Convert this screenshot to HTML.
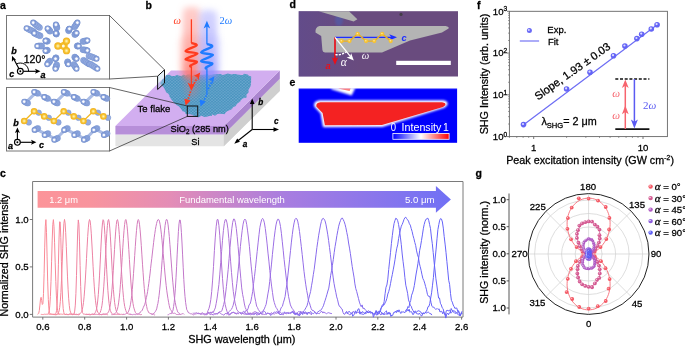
<!DOCTYPE html>
<html><head><meta charset="utf-8"><style>
html,body{margin:0;padding:0;background:#fff;overflow:hidden;}
svg{display:block;will-change:transform;}
svg{font-family:"Liberation Sans",sans-serif;}
.tk{stroke:#000;stroke-width:0.28px;}
</style></head><body>
<svg width="685" height="346" viewBox="0 0 685 346">
<defs>
<radialGradient id="atB" cx="0.5" cy="0.5" r="0.5"><stop offset="0" stop-color="#ffffff"/><stop offset="0.3" stop-color="#f6f8fd"/><stop offset="0.52" stop-color="#9fb3e3"/><stop offset="0.82" stop-color="#7b96d3"/><stop offset="1" stop-color="#6d89c9"/></radialGradient>
<radialGradient id="atY" cx="0.5" cy="0.5" r="0.5"><stop offset="0" stop-color="#fff4c8"/><stop offset="0.3" stop-color="#fbe07a"/><stop offset="0.6" stop-color="#f7c12e"/><stop offset="1" stop-color="#efb020"/></radialGradient>
<linearGradient id="arrC" gradientUnits="userSpaceOnUse" x1="37.6" x2="450.9" y1="0" y2="0"><stop offset="0" stop-color="#fc9499"/><stop offset="0.13" stop-color="#f8949e"/><stop offset="0.32" stop-color="#e48db6"/><stop offset="0.6" stop-color="#a87de0"/><stop offset="1" stop-color="#7070f5"/></linearGradient>
<linearGradient id="cbar" x1="0" x2="1" y1="0" y2="0"><stop offset="0" stop-color="#0000ff"/><stop offset="0.5" stop-color="#ffffff"/><stop offset="1" stop-color="#ff0000"/></linearGradient>
<filter id="blur3" x="-100%" y="-50%" width="300%" height="200%"><feGaussianBlur stdDeviation="3.2"/></filter>
<filter id="blur1" x="-50%" y="-50%" width="200%" height="200%"><feGaussianBlur stdDeviation="1.2"/></filter>
<filter id="blur05" x="-20%" y="-20%" width="140%" height="140%"><feGaussianBlur stdDeviation="0.6"/></filter>
<pattern id="lat" width="3.2" height="2.8" patternUnits="userSpaceOnUse"><rect width="3.2" height="2.8" fill="#55a6c8" fill-opacity="0.82"/><circle cx="0.8" cy="0.7" r="0.85" fill="#3a8cb6" fill-opacity="0.8"/><circle cx="2.4" cy="2.1" r="0.85" fill="#3a8cb6" fill-opacity="0.8"/></pattern>
<radialGradient id="dotP" cx="0.35" cy="0.35" r="0.65"><stop offset="0" stop-color="#ffffff"/><stop offset="0.5" stop-color="currentColor"/><stop offset="1" stop-color="currentColor"/></radialGradient>
</defs>
<text class="tk" x="0" y="9" font-family="Liberation Sans" font-weight="bold" font-size="10.5">a</text>
<text class="tk" x="145.6" y="9" font-family="Liberation Sans" font-weight="bold" font-size="10.5">b</text>
<text class="tk" x="289.5" y="8.2" font-family="Liberation Sans" font-weight="bold" font-size="10.5">d</text>
<text class="tk" x="477" y="9" font-family="Liberation Sans" font-weight="bold" font-size="10.5">f</text>
<text class="tk" x="289.5" y="85.8" font-family="Liberation Sans" font-weight="bold" font-size="10.5">e</text>
<text class="tk" x="0" y="176.6" font-family="Liberation Sans" font-weight="bold" font-size="10.5">c</text>
<text class="tk" x="475.5" y="177.4" font-family="Liberation Sans" font-weight="bold" font-size="10.5">g</text>
<rect x="6.5" y="15.5" width="103" height="63.5" fill="#fff" stroke="#777" stroke-width="1"/>
<rect x="6.5" y="87.5" width="103" height="63.5" fill="#fff" stroke="#777" stroke-width="1"/>
<circle cx="39.5" cy="27.6" r="3.0" fill="#94abe0" stroke="#7390cf" stroke-width="0.5"/>
<circle cx="37.9" cy="26.3" r="3.0" fill="#94abe0" stroke="#7390cf" stroke-width="0.5"/>
<circle cx="36.3" cy="25.1" r="3.0" fill="#94abe0" stroke="#7390cf" stroke-width="0.5"/>
<circle cx="34.8" cy="23.8" r="3.0" fill="#94abe0" stroke="#7390cf" stroke-width="0.5"/>
<circle cx="33.2" cy="22.6" r="3.0" fill="url(#atB)"/>
<circle cx="33.8" cy="31.7" r="3.0" fill="#94abe0" stroke="#7390cf" stroke-width="0.5"/>
<circle cx="32.0" cy="30.8" r="3.0" fill="#94abe0" stroke="#7390cf" stroke-width="0.5"/>
<circle cx="30.2" cy="30.0" r="3.0" fill="#94abe0" stroke="#7390cf" stroke-width="0.5"/>
<circle cx="28.4" cy="29.1" r="3.0" fill="#94abe0" stroke="#7390cf" stroke-width="0.5"/>
<circle cx="26.6" cy="28.2" r="3.0" fill="url(#atB)"/>
<circle cx="40.1" cy="35.8" r="3.0" fill="#94abe0" stroke="#7390cf" stroke-width="0.5"/>
<circle cx="38.6" cy="35.2" r="3.0" fill="#94abe0" stroke="#7390cf" stroke-width="0.5"/>
<circle cx="37.1" cy="34.5" r="3.0" fill="#94abe0" stroke="#7390cf" stroke-width="0.5"/>
<circle cx="35.7" cy="33.9" r="3.0" fill="#94abe0" stroke="#7390cf" stroke-width="0.5"/>
<circle cx="34.2" cy="33.2" r="3.0" fill="url(#atB)"/>
<circle cx="56.9" cy="27.9" r="3.0" fill="#94abe0" stroke="#7390cf" stroke-width="0.5"/>
<circle cx="56.7" cy="27.1" r="3.0" fill="#94abe0" stroke="#7390cf" stroke-width="0.5"/>
<circle cx="56.4" cy="26.3" r="3.0" fill="#94abe0" stroke="#7390cf" stroke-width="0.5"/>
<circle cx="56.2" cy="25.4" r="3.0" fill="#94abe0" stroke="#7390cf" stroke-width="0.5"/>
<circle cx="55.9" cy="24.6" r="3.0" fill="url(#atB)"/>
<circle cx="50.0" cy="31.2" r="3.0" fill="#94abe0" stroke="#7390cf" stroke-width="0.5"/>
<circle cx="49.4" cy="30.5" r="3.0" fill="#94abe0" stroke="#7390cf" stroke-width="0.5"/>
<circle cx="48.8" cy="29.8" r="3.0" fill="#94abe0" stroke="#7390cf" stroke-width="0.5"/>
<circle cx="48.2" cy="29.1" r="3.0" fill="#94abe0" stroke="#7390cf" stroke-width="0.5"/>
<circle cx="47.6" cy="28.4" r="3.0" fill="url(#atB)"/>
<circle cx="56.4" cy="34.1" r="3.0" fill="#94abe0" stroke="#7390cf" stroke-width="0.5"/>
<circle cx="56.2" cy="33.9" r="3.0" fill="#94abe0" stroke="#7390cf" stroke-width="0.5"/>
<circle cx="56.1" cy="33.6" r="3.0" fill="#94abe0" stroke="#7390cf" stroke-width="0.5"/>
<circle cx="56.0" cy="33.4" r="3.0" fill="#94abe0" stroke="#7390cf" stroke-width="0.5"/>
<circle cx="55.9" cy="33.2" r="3.0" fill="url(#atB)"/>
<circle cx="74.5" cy="27.1" r="3.0" fill="#94abe0" stroke="#7390cf" stroke-width="0.5"/>
<circle cx="75.3" cy="25.9" r="3.0" fill="#94abe0" stroke="#7390cf" stroke-width="0.5"/>
<circle cx="76.0" cy="24.8" r="3.0" fill="#94abe0" stroke="#7390cf" stroke-width="0.5"/>
<circle cx="76.7" cy="23.7" r="3.0" fill="#94abe0" stroke="#7390cf" stroke-width="0.5"/>
<circle cx="77.4" cy="22.6" r="3.0" fill="url(#atB)"/>
<circle cx="68.6" cy="30.7" r="3.0" fill="#94abe0" stroke="#7390cf" stroke-width="0.5"/>
<circle cx="68.8" cy="30.2" r="3.0" fill="#94abe0" stroke="#7390cf" stroke-width="0.5"/>
<circle cx="69.0" cy="29.7" r="3.0" fill="#94abe0" stroke="#7390cf" stroke-width="0.5"/>
<circle cx="69.2" cy="29.2" r="3.0" fill="#94abe0" stroke="#7390cf" stroke-width="0.5"/>
<circle cx="69.4" cy="28.7" r="3.0" fill="url(#atB)"/>
<circle cx="74.8" cy="34.6" r="3.0" fill="#94abe0" stroke="#7390cf" stroke-width="0.5"/>
<circle cx="75.2" cy="34.2" r="3.0" fill="#94abe0" stroke="#7390cf" stroke-width="0.5"/>
<circle cx="75.6" cy="33.8" r="3.0" fill="#94abe0" stroke="#7390cf" stroke-width="0.5"/>
<circle cx="76.1" cy="33.4" r="3.0" fill="#94abe0" stroke="#7390cf" stroke-width="0.5"/>
<circle cx="76.5" cy="33.0" r="3.0" fill="url(#atB)"/>
<circle cx="47.4" cy="41.3" r="3.0" fill="#94abe0" stroke="#7390cf" stroke-width="0.5"/>
<circle cx="46.9" cy="41.1" r="3.0" fill="#94abe0" stroke="#7390cf" stroke-width="0.5"/>
<circle cx="46.4" cy="41.0" r="3.0" fill="#94abe0" stroke="#7390cf" stroke-width="0.5"/>
<circle cx="46.0" cy="40.8" r="3.0" fill="#94abe0" stroke="#7390cf" stroke-width="0.5"/>
<circle cx="45.5" cy="40.7" r="3.0" fill="url(#atB)"/>
<circle cx="41.8" cy="46.0" r="3.0" fill="#94abe0" stroke="#7390cf" stroke-width="0.5"/>
<circle cx="40.7" cy="46.0" r="3.0" fill="#94abe0" stroke="#7390cf" stroke-width="0.5"/>
<circle cx="39.5" cy="46.0" r="3.0" fill="#94abe0" stroke="#7390cf" stroke-width="0.5"/>
<circle cx="38.4" cy="46.0" r="3.0" fill="#94abe0" stroke="#7390cf" stroke-width="0.5"/>
<circle cx="37.3" cy="46.0" r="3.0" fill="url(#atB)"/>
<circle cx="47.4" cy="50.2" r="3.0" fill="#94abe0" stroke="#7390cf" stroke-width="0.5"/>
<circle cx="46.9" cy="50.3" r="3.0" fill="#94abe0" stroke="#7390cf" stroke-width="0.5"/>
<circle cx="46.4" cy="50.4" r="3.0" fill="#94abe0" stroke="#7390cf" stroke-width="0.5"/>
<circle cx="46.0" cy="50.6" r="3.0" fill="#94abe0" stroke="#7390cf" stroke-width="0.5"/>
<circle cx="45.5" cy="50.7" r="3.0" fill="url(#atB)"/>
<circle cx="82.9" cy="41.5" r="3.0" fill="#94abe0" stroke="#7390cf" stroke-width="0.5"/>
<circle cx="84.0" cy="41.2" r="3.0" fill="#94abe0" stroke="#7390cf" stroke-width="0.5"/>
<circle cx="85.2" cy="41.0" r="3.0" fill="#94abe0" stroke="#7390cf" stroke-width="0.5"/>
<circle cx="86.3" cy="40.7" r="3.0" fill="#94abe0" stroke="#7390cf" stroke-width="0.5"/>
<circle cx="87.4" cy="40.5" r="3.0" fill="url(#atB)"/>
<circle cx="77.2" cy="46.0" r="3.0" fill="#94abe0" stroke="#7390cf" stroke-width="0.5"/>
<circle cx="77.6" cy="46.0" r="3.0" fill="#94abe0" stroke="#7390cf" stroke-width="0.5"/>
<circle cx="77.9" cy="46.0" r="3.0" fill="#94abe0" stroke="#7390cf" stroke-width="0.5"/>
<circle cx="78.3" cy="46.0" r="3.0" fill="#94abe0" stroke="#7390cf" stroke-width="0.5"/>
<circle cx="78.6" cy="46.0" r="3.0" fill="url(#atB)"/>
<circle cx="82.9" cy="49.7" r="3.0" fill="#94abe0" stroke="#7390cf" stroke-width="0.5"/>
<circle cx="84.1" cy="49.9" r="3.0" fill="#94abe0" stroke="#7390cf" stroke-width="0.5"/>
<circle cx="85.2" cy="50.1" r="3.0" fill="#94abe0" stroke="#7390cf" stroke-width="0.5"/>
<circle cx="86.3" cy="50.3" r="3.0" fill="#94abe0" stroke="#7390cf" stroke-width="0.5"/>
<circle cx="87.4" cy="50.5" r="3.0" fill="url(#atB)"/>
<circle cx="56.0" cy="57.8" r="3.0" fill="#94abe0" stroke="#7390cf" stroke-width="0.5"/>
<circle cx="55.9" cy="58.0" r="3.0" fill="#94abe0" stroke="#7390cf" stroke-width="0.5"/>
<circle cx="55.7" cy="58.3" r="3.0" fill="#94abe0" stroke="#7390cf" stroke-width="0.5"/>
<circle cx="55.6" cy="58.5" r="3.0" fill="#94abe0" stroke="#7390cf" stroke-width="0.5"/>
<circle cx="55.5" cy="58.7" r="3.0" fill="url(#atB)"/>
<circle cx="49.9" cy="61.1" r="3.0" fill="#94abe0" stroke="#7390cf" stroke-width="0.5"/>
<circle cx="49.2" cy="61.9" r="3.0" fill="#94abe0" stroke="#7390cf" stroke-width="0.5"/>
<circle cx="48.6" cy="62.6" r="3.0" fill="#94abe0" stroke="#7390cf" stroke-width="0.5"/>
<circle cx="47.9" cy="63.4" r="3.0" fill="#94abe0" stroke="#7390cf" stroke-width="0.5"/>
<circle cx="47.3" cy="64.2" r="3.0" fill="url(#atB)"/>
<circle cx="56.7" cy="64.8" r="3.0" fill="#94abe0" stroke="#7390cf" stroke-width="0.5"/>
<circle cx="56.4" cy="65.8" r="3.0" fill="#94abe0" stroke="#7390cf" stroke-width="0.5"/>
<circle cx="56.1" cy="66.8" r="3.0" fill="#94abe0" stroke="#7390cf" stroke-width="0.5"/>
<circle cx="55.8" cy="67.7" r="3.0" fill="#94abe0" stroke="#7390cf" stroke-width="0.5"/>
<circle cx="55.5" cy="68.7" r="3.0" fill="url(#atB)"/>
<circle cx="74.7" cy="57.1" r="3.0" fill="#94abe0" stroke="#7390cf" stroke-width="0.5"/>
<circle cx="75.2" cy="57.5" r="3.0" fill="#94abe0" stroke="#7390cf" stroke-width="0.5"/>
<circle cx="75.6" cy="57.9" r="3.0" fill="#94abe0" stroke="#7390cf" stroke-width="0.5"/>
<circle cx="76.1" cy="58.3" r="3.0" fill="#94abe0" stroke="#7390cf" stroke-width="0.5"/>
<circle cx="76.5" cy="58.7" r="3.0" fill="url(#atB)"/>
<circle cx="67.6" cy="61.8" r="3.0" fill="#94abe0" stroke="#7390cf" stroke-width="0.5"/>
<circle cx="67.7" cy="62.4" r="3.0" fill="#94abe0" stroke="#7390cf" stroke-width="0.5"/>
<circle cx="67.9" cy="63.0" r="3.0" fill="#94abe0" stroke="#7390cf" stroke-width="0.5"/>
<circle cx="68.1" cy="63.6" r="3.0" fill="#94abe0" stroke="#7390cf" stroke-width="0.5"/>
<circle cx="68.3" cy="64.2" r="3.0" fill="url(#atB)"/>
<circle cx="73.9" cy="64.4" r="3.0" fill="#94abe0" stroke="#7390cf" stroke-width="0.5"/>
<circle cx="74.5" cy="65.5" r="3.0" fill="#94abe0" stroke="#7390cf" stroke-width="0.5"/>
<circle cx="75.2" cy="66.5" r="3.0" fill="#94abe0" stroke="#7390cf" stroke-width="0.5"/>
<circle cx="75.8" cy="67.6" r="3.0" fill="#94abe0" stroke="#7390cf" stroke-width="0.5"/>
<circle cx="76.5" cy="68.7" r="3.0" fill="url(#atB)"/>
<circle cx="89.0" cy="55.9" r="3.0" fill="#94abe0" stroke="#7390cf" stroke-width="0.5"/>
<circle cx="90.9" cy="56.6" r="3.0" fill="#94abe0" stroke="#7390cf" stroke-width="0.5"/>
<circle cx="92.8" cy="57.3" r="3.0" fill="#94abe0" stroke="#7390cf" stroke-width="0.5"/>
<circle cx="94.6" cy="58.0" r="3.0" fill="#94abe0" stroke="#7390cf" stroke-width="0.5"/>
<circle cx="96.5" cy="58.7" r="3.0" fill="url(#atB)"/>
<circle cx="83.5" cy="60.3" r="3.0" fill="#94abe0" stroke="#7390cf" stroke-width="0.5"/>
<circle cx="84.9" cy="61.2" r="3.0" fill="#94abe0" stroke="#7390cf" stroke-width="0.5"/>
<circle cx="86.3" cy="62.2" r="3.0" fill="#94abe0" stroke="#7390cf" stroke-width="0.5"/>
<circle cx="87.8" cy="63.2" r="3.0" fill="#94abe0" stroke="#7390cf" stroke-width="0.5"/>
<circle cx="89.2" cy="64.2" r="3.0" fill="url(#atB)"/>
<circle cx="90.7" cy="64.3" r="3.0" fill="#94abe0" stroke="#7390cf" stroke-width="0.5"/>
<circle cx="92.4" cy="65.4" r="3.0" fill="#94abe0" stroke="#7390cf" stroke-width="0.5"/>
<circle cx="94.1" cy="66.5" r="3.0" fill="#94abe0" stroke="#7390cf" stroke-width="0.5"/>
<circle cx="95.7" cy="67.6" r="3.0" fill="#94abe0" stroke="#7390cf" stroke-width="0.5"/>
<circle cx="97.4" cy="68.7" r="3.0" fill="url(#atB)"/>
<polygon points="57.9,46 66.5,41.1 66.5,50.7" fill="#f5bd25" stroke="#f5bd25" stroke-width="2.4" stroke-linejoin="round"/>
<circle cx="57.9" cy="46.0" r="3.65" fill="url(#atY)"/>
<circle cx="66.5" cy="41.1" r="3.65" fill="url(#atY)"/>
<circle cx="66.5" cy="50.7" r="3.65" fill="url(#atY)"/>
<circle cx="63.3" cy="45.9" r="1.5" fill="#fffbe8"/>
<g stroke="#000" fill="none" stroke-width="1.15"><path d="M20.3,71.3 L37,71.3"/><path d="M20.3,71.3 L13.8,59"/><path d="M28.6,71.3 A8.3,8.3 0 0 0 16.2,64.1" stroke-width="1"/><circle cx="20.3" cy="71.3" r="2.9" fill="#fff"/></g><circle cx="20.3" cy="71.3" r="1" fill="#000"/><path d="M40.5,71.3 L35,68.8 L36.2,71.3 L35,73.8 Z" fill="#000"/><path d="M12,55.8 L11.9,61.8 L13.6,59.8 L16.3,60.2 Z" fill="#000"/>
<text class="tk" x="23.8" y="62.8" font-family="Liberation Sans" font-size="10.4" textLength="21.6" lengthAdjust="spacingAndGlyphs">120°</text>
<text class="tk" x="11.2" y="54.2" font-family="Liberation Sans" font-size="9" font-weight="bold" font-style="italic">b</text>
<text class="tk" x="9.3" y="77.3" font-family="Liberation Sans" font-size="9" font-weight="bold" font-style="italic">c</text>
<text class="tk" x="40.4" y="77.7" font-family="Liberation Sans" font-size="9" font-weight="bold" font-style="italic">a</text>
<circle cx="28.8" cy="122.4" r="2.8" fill="#94abe0" stroke="#7390cf" stroke-width="0.5"/>
<circle cx="38.7" cy="112.7" r="2.8" fill="#94abe0" stroke="#7390cf" stroke-width="0.5"/>
<circle cx="48.8" cy="117.8" r="2.8" fill="#94abe0" stroke="#7390cf" stroke-width="0.5"/>
<circle cx="58.4" cy="122.4" r="2.8" fill="#94abe0" stroke="#7390cf" stroke-width="0.5"/>
<circle cx="68.3" cy="112.7" r="2.8" fill="#94abe0" stroke="#7390cf" stroke-width="0.5"/>
<circle cx="78.4" cy="117.8" r="2.8" fill="#94abe0" stroke="#7390cf" stroke-width="0.5"/>
<circle cx="88.0" cy="122.4" r="2.8" fill="#94abe0" stroke="#7390cf" stroke-width="0.5"/>
<circle cx="97.9" cy="112.7" r="2.8" fill="#94abe0" stroke="#7390cf" stroke-width="0.5"/>
<circle cx="108.0" cy="117.8" r="2.8" fill="#94abe0" stroke="#7390cf" stroke-width="0.5"/>
<path d="M26.0,102.4 L35.9,92.6" stroke="#a9bbe4" stroke-width="3"/>
<path d="M35.9,92.6 L46.0,97.8" stroke="#a9bbe4" stroke-width="3"/>
<path d="M46.0,97.8 L55.6,102.4" stroke="#a9bbe4" stroke-width="3"/>
<path d="M55.6,102.4 L65.5,92.6" stroke="#a9bbe4" stroke-width="3"/>
<path d="M65.5,92.6 L75.6,97.8" stroke="#a9bbe4" stroke-width="3"/>
<path d="M75.6,97.8 L85.2,102.4" stroke="#a9bbe4" stroke-width="3"/>
<path d="M85.2,102.4 L95.1,92.6" stroke="#a9bbe4" stroke-width="3"/>
<path d="M95.1,92.6 L105.2,97.8" stroke="#a9bbe4" stroke-width="3"/>
<circle cx="27.8" cy="103.2" r="2.9" fill="#94abe0" stroke="#7390cf" stroke-width="0.5"/>
<circle cx="26.6" cy="102.7" r="2.9" fill="#94abe0" stroke="#7390cf" stroke-width="0.5"/>
<circle cx="25.4" cy="102.1" r="2.9" fill="#94abe0" stroke="#7390cf" stroke-width="0.5"/>
<circle cx="24.2" cy="101.6" r="2.9" fill="url(#atB)"/>
<circle cx="37.7" cy="93.4" r="2.9" fill="#94abe0" stroke="#7390cf" stroke-width="0.5"/>
<circle cx="36.5" cy="92.9" r="2.9" fill="#94abe0" stroke="#7390cf" stroke-width="0.5"/>
<circle cx="35.3" cy="92.3" r="2.9" fill="#94abe0" stroke="#7390cf" stroke-width="0.5"/>
<circle cx="34.1" cy="91.8" r="2.9" fill="url(#atB)"/>
<circle cx="47.8" cy="98.6" r="2.9" fill="#94abe0" stroke="#7390cf" stroke-width="0.5"/>
<circle cx="46.6" cy="98.1" r="2.9" fill="#94abe0" stroke="#7390cf" stroke-width="0.5"/>
<circle cx="45.4" cy="97.5" r="2.9" fill="#94abe0" stroke="#7390cf" stroke-width="0.5"/>
<circle cx="44.2" cy="97.0" r="2.9" fill="url(#atB)"/>
<circle cx="57.4" cy="103.2" r="2.9" fill="#94abe0" stroke="#7390cf" stroke-width="0.5"/>
<circle cx="56.2" cy="102.7" r="2.9" fill="#94abe0" stroke="#7390cf" stroke-width="0.5"/>
<circle cx="55.0" cy="102.1" r="2.9" fill="#94abe0" stroke="#7390cf" stroke-width="0.5"/>
<circle cx="53.8" cy="101.6" r="2.9" fill="url(#atB)"/>
<circle cx="67.3" cy="93.4" r="2.9" fill="#94abe0" stroke="#7390cf" stroke-width="0.5"/>
<circle cx="66.1" cy="92.9" r="2.9" fill="#94abe0" stroke="#7390cf" stroke-width="0.5"/>
<circle cx="64.9" cy="92.3" r="2.9" fill="#94abe0" stroke="#7390cf" stroke-width="0.5"/>
<circle cx="63.7" cy="91.8" r="2.9" fill="url(#atB)"/>
<circle cx="77.4" cy="98.6" r="2.9" fill="#94abe0" stroke="#7390cf" stroke-width="0.5"/>
<circle cx="76.2" cy="98.1" r="2.9" fill="#94abe0" stroke="#7390cf" stroke-width="0.5"/>
<circle cx="75.0" cy="97.5" r="2.9" fill="#94abe0" stroke="#7390cf" stroke-width="0.5"/>
<circle cx="73.8" cy="97.0" r="2.9" fill="url(#atB)"/>
<circle cx="87.0" cy="103.2" r="2.9" fill="#94abe0" stroke="#7390cf" stroke-width="0.5"/>
<circle cx="85.8" cy="102.7" r="2.9" fill="#94abe0" stroke="#7390cf" stroke-width="0.5"/>
<circle cx="84.6" cy="102.1" r="2.9" fill="#94abe0" stroke="#7390cf" stroke-width="0.5"/>
<circle cx="83.4" cy="101.6" r="2.9" fill="url(#atB)"/>
<circle cx="96.9" cy="93.4" r="2.9" fill="#94abe0" stroke="#7390cf" stroke-width="0.5"/>
<circle cx="95.7" cy="92.9" r="2.9" fill="#94abe0" stroke="#7390cf" stroke-width="0.5"/>
<circle cx="94.5" cy="92.3" r="2.9" fill="#94abe0" stroke="#7390cf" stroke-width="0.5"/>
<circle cx="93.3" cy="91.8" r="2.9" fill="url(#atB)"/>
<circle cx="107.0" cy="98.6" r="2.9" fill="#94abe0" stroke="#7390cf" stroke-width="0.5"/>
<circle cx="105.8" cy="98.1" r="2.9" fill="#94abe0" stroke="#7390cf" stroke-width="0.5"/>
<circle cx="104.6" cy="97.5" r="2.9" fill="#94abe0" stroke="#7390cf" stroke-width="0.5"/>
<circle cx="103.4" cy="97.0" r="2.9" fill="url(#atB)"/>
<path d="M36.2,129.1 L46.3,134.3" stroke="#a9bbe4" stroke-width="3"/>
<path d="M46.3,134.3 L55.9,139.0" stroke="#a9bbe4" stroke-width="3"/>
<path d="M55.9,139.0 L65.8,129.1" stroke="#a9bbe4" stroke-width="3"/>
<path d="M65.8,129.1 L75.9,134.3" stroke="#a9bbe4" stroke-width="3"/>
<path d="M75.9,134.3 L85.5,139.0" stroke="#a9bbe4" stroke-width="3"/>
<path d="M85.5,139.0 L95.4,129.1" stroke="#a9bbe4" stroke-width="3"/>
<path d="M95.4,129.1 L105.5,134.3" stroke="#a9bbe4" stroke-width="3"/>
<circle cx="37.9" cy="128.3" r="2.9" fill="#94abe0" stroke="#7390cf" stroke-width="0.5"/>
<circle cx="36.8" cy="128.8" r="2.9" fill="#94abe0" stroke="#7390cf" stroke-width="0.5"/>
<circle cx="35.6" cy="129.4" r="2.9" fill="#94abe0" stroke="#7390cf" stroke-width="0.5"/>
<circle cx="34.5" cy="129.9" r="2.9" fill="url(#atB)"/>
<circle cx="48.0" cy="133.5" r="2.9" fill="#94abe0" stroke="#7390cf" stroke-width="0.5"/>
<circle cx="46.9" cy="134.0" r="2.9" fill="#94abe0" stroke="#7390cf" stroke-width="0.5"/>
<circle cx="45.7" cy="134.6" r="2.9" fill="#94abe0" stroke="#7390cf" stroke-width="0.5"/>
<circle cx="44.6" cy="135.1" r="2.9" fill="url(#atB)"/>
<circle cx="57.6" cy="138.2" r="2.9" fill="#94abe0" stroke="#7390cf" stroke-width="0.5"/>
<circle cx="56.5" cy="138.7" r="2.9" fill="#94abe0" stroke="#7390cf" stroke-width="0.5"/>
<circle cx="55.3" cy="139.3" r="2.9" fill="#94abe0" stroke="#7390cf" stroke-width="0.5"/>
<circle cx="54.2" cy="139.8" r="2.9" fill="url(#atB)"/>
<circle cx="67.5" cy="128.3" r="2.9" fill="#94abe0" stroke="#7390cf" stroke-width="0.5"/>
<circle cx="66.4" cy="128.8" r="2.9" fill="#94abe0" stroke="#7390cf" stroke-width="0.5"/>
<circle cx="65.2" cy="129.4" r="2.9" fill="#94abe0" stroke="#7390cf" stroke-width="0.5"/>
<circle cx="64.1" cy="129.9" r="2.9" fill="url(#atB)"/>
<circle cx="77.6" cy="133.5" r="2.9" fill="#94abe0" stroke="#7390cf" stroke-width="0.5"/>
<circle cx="76.5" cy="134.0" r="2.9" fill="#94abe0" stroke="#7390cf" stroke-width="0.5"/>
<circle cx="75.3" cy="134.6" r="2.9" fill="#94abe0" stroke="#7390cf" stroke-width="0.5"/>
<circle cx="74.2" cy="135.1" r="2.9" fill="url(#atB)"/>
<circle cx="87.2" cy="138.2" r="2.9" fill="#94abe0" stroke="#7390cf" stroke-width="0.5"/>
<circle cx="86.1" cy="138.7" r="2.9" fill="#94abe0" stroke="#7390cf" stroke-width="0.5"/>
<circle cx="84.9" cy="139.3" r="2.9" fill="#94abe0" stroke="#7390cf" stroke-width="0.5"/>
<circle cx="83.8" cy="139.8" r="2.9" fill="url(#atB)"/>
<circle cx="97.1" cy="128.3" r="2.9" fill="#94abe0" stroke="#7390cf" stroke-width="0.5"/>
<circle cx="96.0" cy="128.8" r="2.9" fill="#94abe0" stroke="#7390cf" stroke-width="0.5"/>
<circle cx="94.8" cy="129.4" r="2.9" fill="#94abe0" stroke="#7390cf" stroke-width="0.5"/>
<circle cx="93.7" cy="129.9" r="2.9" fill="url(#atB)"/>
<circle cx="107.2" cy="133.5" r="2.9" fill="#94abe0" stroke="#7390cf" stroke-width="0.5"/>
<circle cx="106.1" cy="134.0" r="2.9" fill="#94abe0" stroke="#7390cf" stroke-width="0.5"/>
<circle cx="104.9" cy="134.6" r="2.9" fill="#94abe0" stroke="#7390cf" stroke-width="0.5"/>
<circle cx="103.8" cy="135.1" r="2.9" fill="url(#atB)"/>
<polyline points="24.2,121.0 34.1,111.3 44.2,116.4 53.8,121.0 63.7,111.3 73.8,116.4 83.4,121.0 93.3,111.3 103.4,116.4" fill="none" stroke="#f2b820" stroke-width="1.3"/>
<circle cx="24.2" cy="121.0" r="3.3" fill="url(#atY)"/>
<circle cx="34.1" cy="111.3" r="3.3" fill="url(#atY)"/>
<circle cx="44.2" cy="116.4" r="3.3" fill="url(#atY)"/>
<circle cx="53.8" cy="121.0" r="3.3" fill="url(#atY)"/>
<circle cx="63.7" cy="111.3" r="3.3" fill="url(#atY)"/>
<circle cx="73.8" cy="116.4" r="3.3" fill="url(#atY)"/>
<circle cx="83.4" cy="121.0" r="3.3" fill="url(#atY)"/>
<circle cx="93.3" cy="111.3" r="3.3" fill="url(#atY)"/>
<circle cx="103.4" cy="116.4" r="3.3" fill="url(#atY)"/>
<g stroke="#000" fill="none" stroke-width="1.15"><path d="M17.4,142.3 L17.4,131"/><path d="M17.4,142.3 L33,142.3"/><circle cx="17.4" cy="142.3" r="2.9" fill="#fff"/></g><circle cx="17.4" cy="142.3" r="1" fill="#000"/><path d="M17.4,127.6 L14.9,133 L17.4,131.8 L19.9,133 Z" fill="#000"/><path d="M36.4,142.3 L31,139.8 L32.2,142.3 L31,144.8 Z" fill="#000"/>
<text class="tk" x="13.2" y="126.3" font-family="Liberation Sans" font-size="9" font-weight="bold" font-style="italic">b</text>
<text class="tk" x="7.9" y="149.1" font-family="Liberation Sans" font-size="9" font-weight="bold" font-style="italic">a</text>
<text class="tk" x="39" y="148.3" font-family="Liberation Sans" font-size="9" font-weight="bold" font-style="italic">c</text>
<polygon points="115.4,146.3 223.8,146.3 279.8,91 279.8,78.8 223.8,134.4 115.4,134.4" fill="#e4e4e4"/>
<polygon points="223.8,146.3 279.8,91 279.8,78.8 223.8,134.4" fill="#cfcfcf"/>
<polygon points="115.4,126 223.8,126 223.8,134.4 115.4,134.4" fill="#b78fd9"/>
<polygon points="223.8,126 279.8,70.6 279.8,78.8 223.8,134.4" fill="#ab85cf"/>
<polygon points="115.4,126 223.8,126 279.8,70.6 171,70.6" fill="#d2aef0"/>
<polygon points="160.0,83.3 161.6,81.3 162.2,79.6 165.0,78.2 166.0,75.0 167.8,75.1 169.3,74.7 171.6,76.1 174.9,75.9 177.1,74.7 178.4,75.5 181.3,75.9 183.8,74.4 185.5,75.4 187.5,74.5 189.7,74.3 192.7,75.7 194.2,74.6 197.1,75.1 199.2,75.5 200.8,74.7 203.1,74.7 204.5,74.4 207.9,73.9 208.7,74.9 211.4,74.7 213.9,74.3 217.1,74.0 218.2,74.0 220.8,74.1 222.5,74.9 224.7,74.5 227.9,73.6 228.6,73.8 232.1,74.5 233.3,73.9 235.4,74.1 237.4,74.5 241.1,74.9 243.0,74.9 243.9,73.7 247.8,74.5 248.8,75.8 251.2,76.6 251.1,79.4 251.1,82.0 250.6,86.2 250.2,87.1 248.5,89.8 248.6,92.5 246.5,94.4 246.6,97.4 243.2,98.3 241.0,100.1 240.2,101.6 237.1,103.8 235.5,106.3 233.3,107.1 232.7,108.1 231.3,109.6 228.1,110.7 226.0,112.1 224.5,114.2 223.2,113.9 219.4,113.8 217.4,114.1 215.0,115.7 212.5,114.6 211.5,115.9 209.3,116.0 206.7,116.8 204.3,116.9 201.5,115.8 198.7,117.2 197.7,117.3 194.5,116.1 193.2,115.4 191.1,114.6 188.6,114.2 185.7,113.9 184.8,111.7 182.8,111.5 180.3,107.9 178.7,106.2 176.8,105.3 173.7,102.6 173.2,101.5 171.9,100.3 169.5,96.8 169.3,95.0 167.7,93.3 166.3,92.5 165.1,90.1 163.8,87.5 162.1,85.7" fill="url(#lat)" filter="url(#blur05)"/>
<linearGradient id="gR" x1="0" x2="0" y1="0" y2="1"><stop offset="0" stop-color="#ffa8a2" stop-opacity="0.55"/><stop offset="0.45" stop-color="#ff9088" stop-opacity="0.6"/><stop offset="1" stop-color="#ff6a5e" stop-opacity="0.85"/></linearGradient>
<linearGradient id="gB" x1="0" x2="0" y1="0" y2="1"><stop offset="0" stop-color="#b4b4ff" stop-opacity="0.55"/><stop offset="0.45" stop-color="#a0a0ff" stop-opacity="0.6"/><stop offset="1" stop-color="#8484ff" stop-opacity="0.8"/></linearGradient>
<rect x="183" y="7" width="17" height="72" rx="5" fill="url(#gR)" filter="url(#blur3)"/>
<rect x="199.5" y="10" width="17.5" height="69" rx="5" fill="url(#gB)" filter="url(#blur3)"/>
<rect x="179" y="35" width="24" height="40" rx="8" fill="#ff9a90" opacity="0.25" filter="url(#blur3)"/>
<rect x="197" y="35" width="24" height="40" rx="8" fill="#b0b0ff" opacity="0.25" filter="url(#blur3)"/>
<ellipse cx="192" cy="86" rx="7" ry="12" fill="#ff7060" opacity="0.25" filter="url(#blur3)"/>
<path d="M191.4,19.3 L191.4,43" stroke="#ff3b1f" stroke-width="1.3" fill="none"/>
<path d="M191.40,43.00 C192.27,43.40 197.57,44.04 196.60,45.40 C195.63,46.76 185.47,49.80 185.60,51.16 C185.73,52.52 197.40,52.20 197.40,53.56 C197.40,54.92 185.70,57.96 185.60,59.32 C185.50,60.68 196.00,60.68 196.80,61.72 C197.60,62.76 191.30,64.68 190.40,65.56 C189.50,66.44 191.23,66.76 191.40,67.00" stroke="#ff3b1f" stroke-width="2.4" fill="none"/>
<path d="M191.4,67 L191.4,85" stroke="#ff3b1f" stroke-width="1.3"/>
<path d="M191.4,91 L187.6,82.5 L191.4,84.8 L195.2,82.5 Z" fill="#ff3b1f"/>
<path d="M192.8,86 L197.2,78" stroke="#ff3b1f" stroke-width="1.7" stroke-dasharray="1.6,1.3"/><path d="M200.2,72.6 L194,75.8 L197.4,77.2 L198.4,80.6 Z" fill="#ff3b1f"/>
<path d="M190.6,91.5 L187.6,100.5" stroke="#ff3b1f" stroke-width="1.7" stroke-dasharray="1.6,1.4"/>
<path d="M185.6,105.5 L184.4,98.6 L190.6,100.6 Z" fill="#ff3b1f"/>
<path d="M206.9,25 L206.9,44" stroke="#1f7bff" stroke-width="1.3" fill="none"/>
<path d="M206.9,20.8 L203.6,28.4 L206.9,26.6 L210.2,28.4 Z" fill="#1f7bff"/>
<path d="M206.90,44.00 C207.77,44.42 213.07,45.08 212.10,46.50 C211.13,47.92 200.97,51.08 201.10,52.50 C201.23,53.92 212.90,53.58 212.90,55.00 C212.90,56.42 201.20,59.58 201.10,61.00 C201.00,62.42 211.50,62.42 212.30,63.50 C213.10,64.58 206.80,66.58 205.90,67.50 C205.00,68.42 206.73,68.75 206.90,69.00" stroke="#1f7bff" stroke-width="2.4" fill="none"/>
<path d="M206.9,69 L206.9,95" stroke="#1f7bff" stroke-width="1.3"/>
<path d="M208.2,89 L212.2,81" stroke="#1f7bff" stroke-width="1.7" stroke-dasharray="1.6,1.3"/><path d="M214.4,76.2 L208.4,79.4 L211.8,80.8 L212.8,84.2 Z" fill="#1f7bff"/>
<path d="M206.4,95.5 L202.6,103" stroke="#1f7bff" stroke-width="1.7" stroke-dasharray="1.6,1.4"/>
<path d="M200.6,106.5 L199.6,99.5 L205.8,101.5 Z" fill="#1f7bff"/>
<text x="173.6" y="23.8" font-family="Liberation Serif" font-style="italic" font-size="10.5" fill="#ff3b1f">ω</text>
<text x="219.4" y="23.8" font-family="Liberation Serif" font-size="10.5" fill="#1f7bff">2<tspan font-style="italic">ω</tspan></text>
<g stroke="#222" stroke-width="0.7" fill="none"><path d="M109.5,15.5 L164.5,69.8"/><path d="M109.5,79 L157.6,76.2"/><path d="M109.5,87.5 L187.3,106"/><path d="M109.5,151 L187.3,116.4"/></g>
<polygon points="157.6,76.2 164.5,69.8 164.5,83.1 157.6,89.5" fill="#b8d8ea" fill-opacity="0.35" stroke="#111" stroke-width="1"/>
<rect x="187.3" y="106" width="10.4" height="10.4" fill="none" stroke="#111" stroke-width="1"/>
<text class="tk" x="137.6" y="112.2" font-family="Liberation Sans" font-size="9.5">Te flake</text>
<text class="tk" x="170.6" y="132" font-family="Liberation Sans" font-size="9.2">SiO<tspan font-size="6.3" dy="2">2</tspan><tspan dy="-2"> (285 nm)</tspan></text>
<text class="tk" x="191.3" y="145.4" font-family="Liberation Sans" font-size="9.2">Si</text>
<g stroke="#000" stroke-width="1.1" fill="none"><path d="M252.2,129.5 L252.2,101"/><path d="M252.2,129.5 L276,129.5"/><path d="M252.2,129.5 L237,141.5"/></g>
<path d="M252.2,98.5 L249.9,104 L254.5,104 Z" fill="#000"/><path d="M279,129.5 L273.5,127.2 L273.5,131.8 Z" fill="#000"/><path d="M234.3,143.7 L237.2,138.5 L239.9,141.8 Z" fill="#000"/>
<text class="tk" x="258.3" y="105.3" font-family="Liberation Sans" font-size="8.2" font-weight="bold" font-style="italic">b</text>
<text class="tk" x="274" y="124.3" font-family="Liberation Sans" font-size="8.2" font-weight="bold" font-style="italic">c</text>
<text class="tk" x="242.8" y="146.8" font-family="Liberation Sans" font-size="8.2" font-weight="bold" font-style="italic">a</text>
<rect x="298.7" y="11.2" width="159.3" height="65.3" fill="#694b7e"/>
<linearGradient id="dL" gradientUnits="userSpaceOnUse" x1="298.7" x2="360" y1="0" y2="0"><stop offset="0" stop-color="#5a4c98" stop-opacity="0.45"/><stop offset="1" stop-color="#5a4c98" stop-opacity="0"/></linearGradient>
<rect x="298.7" y="11.2" width="61.3" height="65.3" fill="url(#dL)"/>
<ellipse cx="339" cy="20" rx="4" ry="6" fill="#4a64b8" opacity="0.5" filter="url(#blur1)"/>
<polygon points="318.7,11.2 349,11.2 357.4,19.2 353.7,21.4" fill="#b0b0b0"/>
<path d="M319.5,26 L445.6,25.9 Q449.5,26.5 448.6,28.6 L442,32.5 L410,40.5 L382,52.4 L325,52.6 Q322.5,52.4 322.4,50 L321.2,36 L315.5,32.5 Q315,27 319.5,26 Z" fill="#b4b4b4"/>
<circle cx="401" cy="14.4" r="1.6" fill="#3a3a3a" opacity="0.8"/>
<path d="M335,37.3 L392,37.3" stroke="#1e2eff" stroke-width="1.3"/><path d="M397,37.3 L389.2,34.2 L391.2,37.3 L389.2,40.4 Z" fill="#1e2eff"/>
<polyline points="341.6,41.1 349.5,41.1 357.7,33.8 366.1,41.1 374.3,41.1 382.2,33.8 390.7,41.1" fill="none" stroke="#eab020" stroke-width="1.4"/>
<circle cx="341.6" cy="41.1" r="2.1" fill="#f6c232"/><circle cx="341.3" cy="40.800000000000004" r="0.8" fill="#fde79a"/>
<circle cx="349.5" cy="41.1" r="2.1" fill="#f6c232"/><circle cx="349.2" cy="40.800000000000004" r="0.8" fill="#fde79a"/>
<circle cx="357.7" cy="33.8" r="2.1" fill="#f6c232"/><circle cx="357.4" cy="33.5" r="0.8" fill="#fde79a"/>
<circle cx="366.1" cy="41.1" r="2.1" fill="#f6c232"/><circle cx="365.8" cy="40.800000000000004" r="0.8" fill="#fde79a"/>
<circle cx="374.3" cy="41.1" r="2.1" fill="#f6c232"/><circle cx="374.0" cy="40.800000000000004" r="0.8" fill="#fde79a"/>
<circle cx="382.2" cy="33.8" r="2.1" fill="#f6c232"/><circle cx="381.9" cy="33.5" r="0.8" fill="#fde79a"/>
<circle cx="390.7" cy="41.1" r="2.1" fill="#f6c232"/><circle cx="390.4" cy="40.800000000000004" r="0.8" fill="#fde79a"/>
<path d="M335,37.3 L335,60" stroke="#e8101a" stroke-width="1.7"/><path d="M335,65 L331.8,57.2 L335,59 L338.2,57.2 Z" fill="#e8101a"/>
<path d="M335,37.3 L350.2,56.2" stroke="#fff" stroke-width="1.3"/><path d="M353.8,60.6 L346.6,57.6 L350,56.6 L351.2,53.2 Z" fill="#fff"/>
<path d="M335.4,54.6 Q341,55.5 346.4,51.8" stroke="#fff" stroke-width="1.4" fill="none" stroke-dasharray="2.2,1.2"/>
<text x="401.6" y="41.4" font-family="Liberation Sans" font-size="9.4" font-weight="bold" font-style="italic" fill="#1e2eff">c</text>
<text x="325.5" y="69.2" font-family="Liberation Sans" font-size="9.4" font-weight="bold" font-style="italic" fill="#e8101a">a</text>
<text x="361.8" y="58.6" font-family="Liberation Serif" font-style="italic" font-size="10.6" fill="#fff">ω</text>
<text x="340.8" y="66.4" font-family="Liberation Serif" font-style="italic" font-size="11.5" fill="#fff">α</text>
<rect x="396.2" y="60.8" width="54.6" height="4.2" fill="#fff"/>
<rect x="298.7" y="88.6" width="158.4" height="54.2" fill="#0000fc"/>
<rect x="298.7" y="88.2" width="158.4" height="1" fill="#8080ff" opacity="0.6"/>
<path d="M319.5,101.4 L443,101.4 Q447.5,102 446.2,104.6 L444,106.5 L382,125.9 L324,126.1 L321.7,113 L315.3,106 Q314.8,102 319.5,101.4 Z" fill="#fff" stroke="#fff" stroke-width="2.4" stroke-linejoin="round" filter="url(#blur1)"/>
<path d="M319.5,101.4 L443,101.4 Q447.5,102 446.2,104.6 L444,106.5 L382,125.9 L324,126.1 L321.7,113 L315.3,106 Q314.8,102 319.5,101.4 Z" fill="#f42424" transform="translate(381,113.7) scale(0.985,0.93) translate(-381,-113.7)" filter="url(#blur05)"/>
<path d="M331.5,88.6 L354.2,88.6 L351.2,94.6 Z" fill="#fff" stroke="#fff" stroke-width="1.5" filter="url(#blur1)"/>
<path d="M338,88.6 L350.6,88.6 L349.6,91 Z" fill="#fb8080" filter="url(#blur05)"/>
<text x="390.8" y="131.1" font-family="Liberation Sans" font-size="10.4" fill="#fff" transform="translate(390.8,0) scale(0.92,1) translate(-390.8,0)">0</text>
<text x="401.6" y="130.7" font-family="Liberation Sans" font-size="10.4" fill="#fff" textLength="39.8" lengthAdjust="spacingAndGlyphs">Intensity</text>
<text x="443" y="131.1" font-family="Liberation Sans" font-size="10.4" fill="#fff">1</text>
<rect x="392.9" y="133.4" width="56.2" height="5.9" fill="url(#cbar)" stroke="#fff" stroke-width="0.8"/>
<path d="M32.6,181.5 L463,181.5 L463,317.1 L32.6,317.1 Z" fill="none" stroke="#7a7a7a" stroke-width="1"/>
<path d="M37.6,191.1 L435.9,191.1 L435.9,186.1 L450.9,199.4 L435.9,212.7 L435.9,207.8 L37.6,207.8 Z" fill="url(#arrC)"/>
<text x="49.3" y="202.9" font-family="Liberation Sans" font-size="9.6" fill="#fff" textLength="28.6" lengthAdjust="spacingAndGlyphs">1.2 μm</text>
<text x="179.2" y="202.9" font-family="Liberation Sans" font-size="9.6" fill="#fff" textLength="105.6" lengthAdjust="spacingAndGlyphs">Fundamental wavelength</text>
<text x="404.9" y="202.9" font-family="Liberation Sans" font-size="9.6" fill="#fff" textLength="29.6" lengthAdjust="spacingAndGlyphs">5.0 μm</text>
<path d="M29.8,219.5 L32.6,219.5" stroke="#666" stroke-width="0.9"/>
<text class="tk" x="28.7" y="223.0" font-family="Liberation Sans" font-size="9.6" text-anchor="end" fill="#000">1.0</text>
<path d="M29.8,266.9 L32.6,266.9" stroke="#666" stroke-width="0.9"/>
<text class="tk" x="28.7" y="270.4" font-family="Liberation Sans" font-size="9.6" text-anchor="end" fill="#000">0.5</text>
<path d="M29.8,314.4 L32.6,314.4" stroke="#666" stroke-width="0.9"/>
<text class="tk" x="28.7" y="317.9" font-family="Liberation Sans" font-size="9.6" text-anchor="end" fill="#000">0.0</text>
<path d="M42.8,317.1 L42.8,319.6" stroke="#666" stroke-width="0.9"/>
<text class="tk" x="42.8" y="330.1" font-family="Liberation Sans" font-size="9.6" text-anchor="middle" fill="#000">0.6</text>
<path d="M84.7,317.1 L84.7,319.6" stroke="#666" stroke-width="0.9"/>
<text class="tk" x="84.7" y="330.1" font-family="Liberation Sans" font-size="9.6" text-anchor="middle" fill="#000">0.8</text>
<path d="M126.6,317.1 L126.6,319.6" stroke="#666" stroke-width="0.9"/>
<text class="tk" x="126.6" y="330.1" font-family="Liberation Sans" font-size="9.6" text-anchor="middle" fill="#000">1.0</text>
<path d="M168.4,317.1 L168.4,319.6" stroke="#666" stroke-width="0.9"/>
<text class="tk" x="168.4" y="330.1" font-family="Liberation Sans" font-size="9.6" text-anchor="middle" fill="#000">1.2</text>
<path d="M210.3,317.1 L210.3,319.6" stroke="#666" stroke-width="0.9"/>
<text class="tk" x="210.3" y="330.1" font-family="Liberation Sans" font-size="9.6" text-anchor="middle" fill="#000">1.4</text>
<path d="M252.2,317.1 L252.2,319.6" stroke="#666" stroke-width="0.9"/>
<text class="tk" x="252.2" y="330.1" font-family="Liberation Sans" font-size="9.6" text-anchor="middle" fill="#000">1.6</text>
<path d="M294.1,317.1 L294.1,319.6" stroke="#666" stroke-width="0.9"/>
<text class="tk" x="294.1" y="330.1" font-family="Liberation Sans" font-size="9.6" text-anchor="middle" fill="#000">1.8</text>
<path d="M336.0,317.1 L336.0,319.6" stroke="#666" stroke-width="0.9"/>
<text class="tk" x="336.0" y="330.1" font-family="Liberation Sans" font-size="9.6" text-anchor="middle" fill="#000">2.0</text>
<path d="M377.8,317.1 L377.8,319.6" stroke="#666" stroke-width="0.9"/>
<text class="tk" x="377.8" y="330.1" font-family="Liberation Sans" font-size="9.6" text-anchor="middle" fill="#000">2.2</text>
<path d="M419.7,317.1 L419.7,319.6" stroke="#666" stroke-width="0.9"/>
<text class="tk" x="419.7" y="330.1" font-family="Liberation Sans" font-size="9.6" text-anchor="middle" fill="#000">2.4</text>
<path d="M461.6,317.1 L461.6,319.6" stroke="#666" stroke-width="0.9"/>
<text class="tk" x="461.6" y="330.1" font-family="Liberation Sans" font-size="9.6" text-anchor="middle" fill="#000">2.6</text>
<text class="tk" x="188.2" y="343.4" font-family="Liberation Sans" font-size="10.6" fill="#000" textLength="107.2" lengthAdjust="spacingAndGlyphs">SHG wavelength (μm)</text>
<text class="tk" transform="translate(8.3,316.4) rotate(-90)" font-family="Liberation Sans" font-size="10.75" fill="#000" textLength="122.6" lengthAdjust="spacingAndGlyphs">Normalized SHG intensity</text>
<polyline points="37.5,314.2 38.1,314.1 38.7,313.4 39.3,310.5 39.9,305.1 40.5,299.1 41.1,297.3 41.7,300.6 42.3,304.5 42.9,303.6 43.5,293.6 44.1,273.7 44.7,247.9 45.3,226.2 45.9,219.6 46.5,232.3 47.1,256.9 47.7,281.9 48.3,299.5 48.9,308.9 49.5,312.8 50.1,314.0 50.7,314.3 51.3,314.3 51.9,314.2 52.5,314.3 53.1,314.6 53.7,314.4 54.3,314.6 54.9,314.5 55.5,314.7 56.1,314.5 56.7,314.6 57.3,314.5 57.9,313.9 58.5,314.2 59.1,314.2 59.7,314.5" fill="none" stroke="#fa8a97" stroke-width="1" stroke-linejoin="round"/>
<polyline points="40.8,314.4 41.4,314.4 42.0,314.4 42.6,314.5 43.2,314.4 43.8,314.5 44.4,314.2 45.0,314.4 45.6,314.3 46.2,314.3 46.8,314.2 47.4,314.3 48.0,313.9 48.6,313.1 49.2,310.8 49.8,305.8 50.4,296.4 51.0,281.3 51.6,261.2 52.2,240.1 52.8,224.3 53.4,219.6 54.0,226.7 54.6,242.8 55.2,262.8 55.8,281.5 56.4,295.9 57.0,305.3 57.6,310.6 58.2,313.0 58.8,313.9 59.4,314.0 60.0,314.1 60.6,314.1 61.2,314.1 61.8,314.2 62.4,314.3 63.0,314.2 63.6,314.0 64.2,314.3 64.8,314.4" fill="none" stroke="#f88999" stroke-width="1" stroke-linejoin="round"/>
<polyline points="48.2,314.1 48.8,314.1 49.4,314.4 50.0,314.0 50.6,314.0 51.2,314.1 51.8,314.2 52.4,314.3 53.0,314.5 53.6,314.4 54.2,314.4 54.8,314.2 55.4,314.0 56.0,313.2 56.6,310.3 57.2,303.1 57.8,288.1 58.4,264.8 59.0,239.1 59.6,221.8 60.2,221.9 60.8,237.7 61.4,261.5 62.0,283.9 62.6,299.9 63.2,308.7 63.8,312.4 64.4,313.9 65.0,314.6 65.6,314.4 66.2,314.1 66.8,314.1 67.4,314.4 68.0,314.5 68.6,314.4 69.2,314.0 69.8,314.1 70.4,314.2 71.0,314.1 71.6,314.3 72.2,314.0 72.8,314.3" fill="none" stroke="#f6889b" stroke-width="1" stroke-linejoin="round"/>
<polyline points="53.1,314.5 53.7,314.3 54.3,314.3 54.9,314.6 55.5,314.6 56.1,314.6 56.7,314.5 57.3,314.1 57.9,313.8 58.5,312.7 59.1,310.9 59.7,307.5 60.3,301.6 60.9,292.6 61.5,280.1 62.1,265.1 62.7,248.8 63.3,234.0 63.9,223.3 64.5,219.4 65.1,222.9 65.7,232.6 66.3,246.5 66.9,262.0 67.5,276.9 68.1,289.2 68.7,298.8 69.3,305.6 69.9,310.1 70.5,312.1 71.1,313.3 71.7,314.2 72.3,314.3 72.9,314.6 73.5,314.0 74.1,314.0 74.7,314.1 75.3,314.3 75.9,314.7 76.5,314.6 77.1,314.7 77.7,314.5 78.3,314.8 78.9,314.7 79.5,314.4 80.1,314.1" fill="none" stroke="#f4879c" stroke-width="1" stroke-linejoin="round"/>
<polyline points="65.1,314.6 65.7,314.4 66.3,314.5 66.9,314.6 67.5,314.6 68.1,314.7 68.7,314.6 69.3,314.3 69.9,314.3 70.5,314.0 71.1,314.2 71.7,314.3 72.3,314.5 72.9,314.4 73.5,314.3 74.1,313.7 74.7,311.1 75.3,305.1 75.9,293.7 76.5,275.3 77.1,252.2 77.7,231.0 78.3,219.9 78.9,224.2 79.5,241.9 80.1,265.4 80.7,286.6 81.3,301.0 81.9,309.0 82.5,312.6 83.1,313.7 83.7,314.2 84.3,314.2 84.9,314.1 85.5,314.4 86.1,314.7 86.7,314.4 87.3,314.5 87.9,314.3 88.5,314.3 89.1,314.2 89.7,314.2 90.3,314.6 90.9,314.4 91.5,314.5 92.1,314.6 92.7,314.5 93.3,314.4 93.9,314.2 94.5,314.2" fill="none" stroke="#f084a0" stroke-width="1" stroke-linejoin="round"/>
<polyline points="72.7,314.7 73.3,314.5 73.9,314.4 74.5,314.5 75.1,314.4 75.7,314.4 76.3,314.2 76.9,314.4 77.5,314.5 78.1,314.5 78.7,314.1 79.3,313.9 79.9,313.8 80.5,313.3 81.1,312.6 81.7,311.4 82.3,309.4 82.9,306.6 83.5,302.5 84.1,296.8 84.7,289.1 85.3,280.1 85.9,269.8 86.5,258.5 87.1,247.1 87.7,236.5 88.3,227.9 88.9,222.0 89.5,219.5 90.1,220.9 90.7,225.8 91.3,233.8 91.9,244.0 92.5,255.1 93.1,266.8 93.7,277.4 94.3,286.9 94.9,294.7 95.5,300.8 96.1,305.3 96.7,308.6 97.3,310.9 97.9,312.4 98.5,313.3 99.1,313.7 99.7,314.1 100.3,314.4 100.9,314.6 101.5,314.7 102.1,314.7 102.7,314.4 103.3,314.4 103.9,314.4 104.5,314.2 105.1,314.4 105.7,314.3 106.3,314.2 106.9,314.5 107.5,314.7 108.1,314.7" fill="none" stroke="#ed82a3" stroke-width="1" stroke-linejoin="round"/>
<polyline points="85.7,314.3 86.3,314.2 86.9,314.3 87.5,314.4 88.1,314.5 88.7,314.5 89.3,314.7 89.9,314.7 90.5,314.7 91.1,314.5 91.7,314.1 92.3,313.8 92.9,314.1 93.5,314.3 94.1,314.1 94.7,313.7 95.3,312.5 95.9,311.2 96.5,309.2 97.1,305.8 97.7,301.0 98.3,294.7 98.9,286.2 99.5,275.9 100.1,264.1 100.7,251.8 101.3,240.0 101.9,230.0 102.5,222.9 103.1,219.7 103.7,220.7 104.3,225.8 104.9,234.5 105.5,245.7 106.1,257.8 106.7,269.8 107.3,281.1 107.9,290.4 108.5,298.0 109.1,303.6 109.7,307.7 110.3,310.4 110.9,311.9 111.5,313.1 112.1,313.5 112.7,314.1 113.3,314.4 113.9,314.3 114.5,314.5 115.1,314.5 115.7,314.3 116.3,314.2 116.9,314.6 117.5,314.4 118.1,314.1 118.7,314.1 119.3,314.3 119.9,314.4" fill="none" stroke="#e87fa7" stroke-width="1" stroke-linejoin="round"/>
<polyline points="93.0,314.4 93.6,314.5 94.2,314.4 94.8,314.2 95.4,314.4 96.0,314.6 96.6,314.3 97.2,314.5 97.8,314.4 98.4,314.2 99.0,313.9 99.6,313.4 100.2,312.4 100.8,310.6 101.4,308.5 102.0,305.2 102.6,300.4 103.2,294.1 103.8,286.2 104.4,276.7 105.0,266.2 105.6,254.8 106.2,243.5 106.8,233.4 107.4,225.5 108.0,220.7 108.6,219.5 109.2,222.1 109.8,228.2 110.4,236.9 111.0,247.5 111.6,259.0 112.2,270.4 112.8,280.8 113.4,289.5 114.0,296.7 114.6,302.3 115.2,306.4 115.8,309.3 116.4,311.4 117.0,312.5 117.6,313.5 118.2,314.0 118.8,314.3 119.4,314.2 120.0,314.4 120.6,314.4 121.2,314.4 121.8,314.2 122.4,314.4 123.0,314.5 123.6,314.3" fill="none" stroke="#e57faa" stroke-width="1" stroke-linejoin="round"/>
<polyline points="98.3,314.6 98.9,314.5 99.5,314.7 100.1,314.5 100.7,314.5 101.3,314.6 101.9,314.2 102.5,314.2 103.1,313.7 103.7,314.0 104.3,314.2 104.9,314.2 105.5,314.0 106.1,314.0 106.7,313.8 107.3,313.4 107.9,312.9 108.5,311.9 109.1,310.4 109.7,308.3 110.3,304.9 110.9,300.5 111.5,294.9 112.1,288.0 112.7,279.9 113.3,270.2 113.9,259.9 114.5,249.6 115.1,239.6 115.7,231.1 116.3,224.5 116.9,220.5 117.5,219.6 118.1,221.8 118.7,226.8 119.3,234.4 119.9,243.7 120.5,253.9 121.1,264.3 121.7,274.2 122.3,283.2 122.9,290.8 123.5,297.7 124.1,302.6 124.7,306.4 125.3,308.8 125.9,310.7 126.5,312.4 127.1,313.2 127.7,313.8 128.3,313.9 128.9,314.3 129.5,314.4 130.1,314.4 130.7,314.4 131.3,314.5" fill="none" stroke="#e07eaf" stroke-width="1" stroke-linejoin="round"/>
<polyline points="111.4,314.7 112.0,314.5 112.6,314.6 113.2,314.3 113.8,314.1 114.4,313.9 115.0,313.6 115.6,312.7 116.2,312.2 116.8,310.9 117.4,309.3 118.0,306.5 118.6,302.9 119.2,298.2 119.8,292.3 120.4,284.8 121.0,276.6 121.6,267.4 122.2,257.4 122.8,247.8 123.4,238.7 124.0,230.7 124.6,224.6 125.2,220.6 125.8,219.5 126.4,221.2 127.0,225.5 127.6,231.9 128.2,240.2 128.8,249.5 129.4,259.4 130.0,269.1 130.6,278.0 131.2,286.0 131.8,293.0 132.4,298.9 133.0,303.5 133.6,306.8 134.2,308.9 134.8,310.9 135.4,312.4 136.0,313.3 136.6,313.9 137.2,314.3 137.8,314.3 138.4,314.1 139.0,314.2 139.6,314.4 140.2,314.7 140.8,314.5 141.4,314.5 142.0,314.6" fill="none" stroke="#db7db4" stroke-width="1" stroke-linejoin="round"/>
<polyline points="122.7,314.6 123.3,314.4 123.9,314.3 124.5,314.4 125.1,314.2 125.7,314.1 126.3,313.4 126.9,313.6 127.5,313.2 128.1,312.1 128.7,311.1 129.3,309.2 129.9,307.2 130.5,304.2 131.1,300.4 131.7,295.7 132.3,289.6 132.9,281.9 133.5,273.7 134.1,264.9 134.7,255.6 135.3,246.4 135.9,237.8 136.5,230.4 137.1,224.6 137.7,220.8 138.3,219.5 138.9,220.7 139.5,224.2 140.1,229.8 140.7,237.0 141.3,245.7 141.9,254.9 142.5,264.2 143.1,272.8 143.7,281.2 144.3,288.5 144.9,294.7 145.5,299.8 146.1,303.7 146.7,306.6 147.3,309.5 147.9,310.8 148.5,312.1 149.1,313.0 149.7,313.0 150.3,313.7 150.9,313.5 151.5,313.7 152.1,314.3 152.7,314.2 153.3,314.1 153.9,314.3 154.5,314.9 155.1,314.7" fill="none" stroke="#d47cbb" stroke-width="1" stroke-linejoin="round"/>
<polyline points="129.6,313.8 130.2,314.1 130.8,314.3 131.4,314.4 132.0,314.6 132.6,314.7 133.2,314.5 133.8,314.3 134.4,314.4 135.0,314.3 135.6,314.6 136.2,314.1 136.8,314.2 137.4,313.9 138.0,314.0 138.6,313.8 139.2,313.3 139.8,313.2 140.4,311.8 141.0,311.5 141.6,311.0 142.2,310.4 142.8,308.8 143.4,307.3 144.0,306.0 144.6,304.8 145.2,302.8 145.8,300.1 146.4,297.6 147.0,294.8 147.6,291.5 148.2,287.6 148.8,283.3 149.4,278.8 150.0,274.0 150.6,268.3 151.2,263.1 151.8,258.3 152.4,253.0 153.0,247.8 153.6,242.7 154.2,237.8 154.8,233.5 155.4,229.5 156.0,226.2 156.6,223.4 157.2,221.2 157.8,219.8 158.4,219.5 159.0,220.0 159.6,221.9 160.2,224.8 160.8,229.1 161.4,234.2 162.0,240.2 162.6,247.0 163.2,253.6 163.8,260.4 164.4,267.1 165.0,274.0 165.6,280.0 166.2,285.7 166.8,290.8 167.4,295.0 168.0,298.8 168.6,302.3 169.2,305.4 169.8,308.0 170.4,309.5 171.0,310.2 171.6,311.3 172.2,312.8 172.8,313.4 173.4,313.4 174.0,313.1 174.6,313.2 175.2,313.6 175.8,313.8 176.4,314.4 177.0,314.5 177.6,314.5 178.2,314.6 178.8,314.5 179.4,314.5 180.0,314.3" fill="none" stroke="#cb79c3" stroke-width="1" stroke-linejoin="round"/>
<polyline points="150.7,313.7 151.3,314.0 151.9,314.5 152.5,314.2 153.1,313.7 153.7,313.8 154.3,312.7 154.9,312.3 155.5,311.3 156.1,310.2 156.7,308.9 157.3,305.8 157.9,303.5 158.5,299.5 159.1,295.3 159.7,289.9 160.3,284.0 160.9,277.1 161.5,269.2 162.1,260.8 162.7,253.0 163.3,245.0 163.9,237.3 164.5,230.9 165.1,225.4 165.7,221.7 166.3,219.6 166.9,219.5 167.5,221.2 168.1,224.9 168.7,230.3 169.3,236.6 169.9,244.3 170.5,252.1 171.1,260.0 171.7,268.1 172.3,276.1 172.9,282.8 173.5,289.1 174.1,295.0 174.7,299.5 175.3,302.7 175.9,305.9 176.5,308.2 177.1,310.1 177.7,311.9 178.3,312.7 178.9,313.1 179.5,313.4 180.1,313.8 180.7,314.7 181.3,314.0 181.9,313.9 182.5,313.7 183.1,313.5 183.7,314.1 184.3,314.4" fill="none" stroke="#c778c6" stroke-width="1" stroke-linejoin="round"/>
<polyline points="167.6,314.8 168.2,314.6 168.8,314.6 169.4,314.1 170.0,313.4 170.6,313.6 171.2,313.8 171.8,312.9 172.4,311.7 173.0,310.2 173.6,306.5 174.2,302.3 174.8,295.8 175.4,288.2 176.0,277.8 176.6,266.8 177.2,254.1 177.8,242.5 178.4,231.6 179.0,223.9 179.6,220.0 180.2,220.0 180.8,224.2 181.4,232.4 182.0,243.0 182.6,254.9 183.2,267.2 183.8,279.4 184.4,288.9 185.0,296.5 185.6,302.3 186.2,306.3 186.8,309.8 187.4,310.6 188.0,312.0 188.6,312.9 189.2,313.1 189.8,313.3 190.4,313.7 191.0,314.2 191.6,313.8 192.2,313.8 192.8,314.7 193.4,314.9 194.0,314.4 194.6,314.2 195.2,314.1 195.8,313.9 196.4,314.0" fill="none" stroke="#c277ca" stroke-width="1" stroke-linejoin="round"/>
<polyline points="192.8,313.0 193.7,313.3 194.6,313.2 195.5,313.1 196.4,312.7 197.3,313.5 198.2,313.1 199.1,313.2 200.0,314.1 200.9,314.1 201.8,312.8 202.7,312.9 203.6,313.6 204.5,315.0 205.4,314.7 206.3,314.3 207.2,313.1 208.1,310.4 209.0,308.3 209.9,304.8 210.8,299.6 211.7,291.6 212.6,280.1 213.5,266.4 214.4,250.7 215.3,237.1 216.2,226.3 217.1,219.7 218.0,219.5 218.9,225.5 219.8,235.8 220.7,249.8 221.6,265.0 222.5,278.4 223.4,289.7 224.3,298.8 225.2,304.6 226.1,308.3 227.0,311.5 227.9,313.9 228.8,315.3 229.7,314.7 230.6,313.6 231.5,313.2 232.4,312.8 233.3,312.3 234.2,313.1 235.1,312.9 236.0,314.2 236.9,313.7 237.8,313.6 238.7,313.8" fill="none" stroke="#b273d6" stroke-width="1" stroke-linejoin="round"/>
<polyline points="196.4,314.1 197.3,313.2 198.2,313.7 199.1,313.5 200.0,314.0 200.9,313.8 201.8,314.4 202.7,313.9 203.6,314.0 204.5,313.7 205.4,314.1 206.3,314.7 207.2,314.4 208.1,313.5 209.0,312.6 209.9,313.3 210.8,312.8 211.7,312.3 212.6,311.9 213.5,312.0 214.4,309.9 215.3,307.9 216.2,303.4 217.1,298.1 218.0,291.4 218.9,284.6 219.8,274.1 220.7,262.7 221.6,251.7 222.5,240.3 223.4,230.7 224.3,223.5 225.2,219.7 226.1,219.5 227.0,222.9 227.9,228.8 228.8,238.4 229.7,249.4 230.6,261.2 231.5,272.5 232.4,282.7 233.3,291.5 234.2,297.6 235.1,303.1 236.0,306.4 236.9,309.9 237.8,310.9 238.7,312.2 239.6,312.5 240.5,313.2 241.4,314.0 242.3,313.2 243.2,313.8 244.1,313.9 245.0,314.4 245.9,314.0 246.8,314.1 247.7,313.8 248.6,313.6 249.5,314.1 250.4,314.8 251.3,314.1 252.2,313.4 253.1,313.2 254.0,314.2 254.9,313.7" fill="none" stroke="#af73d8" stroke-width="1" stroke-linejoin="round"/>
<polyline points="205.7,313.5 206.6,313.8 207.5,313.7 208.4,313.1 209.3,313.8 210.2,314.7 211.1,314.3 212.0,313.9 212.9,315.0 213.8,314.8 214.7,313.9 215.6,313.9 216.5,313.7 217.4,314.3 218.3,313.2 219.2,311.8 220.1,311.9 221.0,311.6 221.9,310.8 222.8,307.6 223.7,304.4 224.6,300.6 225.5,294.0 226.4,286.7 227.3,278.1 228.2,269.3 229.1,258.5 230.0,247.4 230.9,237.7 231.8,228.8 232.7,222.3 233.6,219.0 234.5,219.2 235.4,222.6 236.3,228.4 237.2,236.7 238.1,246.5 239.0,257.1 239.9,268.1 240.8,278.3 241.7,287.9 242.6,294.3 243.5,298.7 244.4,304.0 245.3,307.7 246.2,309.5 247.1,311.0 248.0,313.0 248.9,313.7 249.8,314.4 250.7,312.8 251.6,313.7 252.5,313.2 253.4,312.3 254.3,311.8 255.2,311.9 256.1,311.8 257.0,313.6 257.9,313.9 258.8,314.3 259.7,314.2 260.6,312.3 261.5,314.1" fill="none" stroke="#ac72da" stroke-width="1" stroke-linejoin="round"/>
<polyline points="208.0,312.8 208.9,312.4 209.8,313.4 210.7,312.1 211.6,312.9 212.5,312.4 213.4,312.8 214.3,313.6 215.2,313.9 216.1,313.9 217.0,313.4 217.9,313.4 218.8,312.0 219.7,313.0 220.6,313.6 221.5,314.1 222.4,314.4 223.3,315.0 224.2,314.9 225.1,313.6 226.0,313.5 226.9,313.4 227.8,312.9 228.7,311.8 229.6,311.2 230.5,310.1 231.4,309.4 232.3,307.6 233.2,305.2 234.1,301.2 235.0,296.7 235.9,290.7 236.8,283.4 237.7,275.1 238.6,266.1 239.5,256.6 240.4,246.5 241.3,237.8 242.2,230.3 243.1,224.1 244.0,220.4 244.9,219.1 245.8,220.2 246.7,224.3 247.6,230.9 248.5,238.0 249.4,246.3 250.3,256.5 251.2,266.1 252.1,274.6 253.0,283.8 253.9,290.9 254.8,297.1 255.7,301.5 256.6,306.1 257.5,307.6 258.4,309.7 259.3,310.9 260.2,312.1 261.1,314.1 262.0,313.9 262.9,314.6 263.8,314.1 264.7,314.5 265.6,314.3 266.5,314.1 267.4,313.4 268.3,313.0 269.2,314.0 270.1,313.9 271.0,312.8 271.9,312.9 272.8,313.8 273.7,313.8 274.6,314.0 275.5,313.2 276.4,313.4 277.3,313.3 278.2,312.0 279.1,313.8 280.0,314.4" fill="none" stroke="#a871de" stroke-width="1" stroke-linejoin="round"/>
<polyline points="226.6,314.8 227.5,314.0 228.4,312.5 229.3,314.5 230.2,314.7 231.1,313.0 232.0,312.5 232.9,312.4 233.8,312.3 234.7,312.9 235.6,313.2 236.5,313.4 237.4,312.8 238.3,313.3 239.2,313.2 240.1,312.2 241.0,313.7 241.9,314.0 242.8,313.2 243.7,313.2 244.6,312.9 245.5,310.8 246.4,310.5 247.3,310.3 248.2,308.2 249.1,304.8 250.0,304.0 250.9,301.1 251.8,296.4 252.7,291.4 253.6,283.4 254.5,276.3 255.4,268.7 256.3,259.9 257.2,251.4 258.1,242.9 259.0,234.7 259.9,227.3 260.8,223.0 261.7,219.6 262.6,218.4 263.5,219.7 264.4,222.9 265.3,228.5 266.2,235.7 267.1,243.9 268.0,253.1 268.9,261.1 269.8,270.6 270.7,278.6 271.6,286.1 272.5,292.6 273.4,299.0 274.3,302.6 275.2,305.3 276.1,307.6 277.0,308.8 277.9,310.6 278.8,312.1 279.7,312.3 280.6,312.3 281.5,313.5 282.4,314.6 283.3,314.8 284.2,313.4 285.1,312.7 286.0,313.8 286.9,313.6 287.8,312.9 288.7,312.3 289.6,313.4 290.5,313.6 291.4,312.6 292.3,311.3 293.2,311.3 294.1,313.3 295.0,313.1 295.9,313.5 296.8,313.6 297.7,314.1 298.6,314.2 299.5,313.9 300.4,312.4 301.3,312.4" fill="none" stroke="#a170e3" stroke-width="1" stroke-linejoin="round"/>
<polyline points="240.0,313.1 240.9,313.4 241.8,312.4 242.7,312.3 243.6,311.3 244.5,312.1 245.4,312.8 246.3,314.4 247.2,313.6 248.1,314.9 249.0,312.9 249.9,313.7 250.8,313.6 251.7,314.6 252.6,314.4 253.5,314.7 254.4,313.1 255.3,313.0 256.2,314.1 257.1,315.3 258.0,314.3 258.9,314.0 259.8,314.2 260.7,312.7 261.6,312.2 262.5,311.2 263.4,310.4 264.3,308.9 265.2,306.7 266.1,304.4 267.0,299.3 267.9,293.9 268.8,289.1 269.7,281.5 270.6,272.6 271.5,264.1 272.4,254.6 273.3,246.1 274.2,237.8 275.1,230.8 276.0,224.9 276.9,221.1 277.8,219.2 278.7,219.4 279.6,221.9 280.5,226.5 281.4,233.3 282.3,241.8 283.2,250.2 284.1,259.4 285.0,267.3 285.9,275.0 286.8,282.8 287.7,290.8 288.6,296.7 289.5,300.9 290.4,304.9 291.3,306.9 292.2,308.5 293.1,309.6 294.0,310.9 294.9,312.6 295.8,313.5 296.7,313.5 297.6,312.4 298.5,311.6 299.4,311.7 300.3,312.3 301.2,312.3 302.1,312.2 303.0,311.8 303.9,311.9 304.8,313.9 305.7,312.9 306.6,312.9 307.5,313.5 308.4,313.0 309.3,313.0 310.2,313.3 311.1,314.7 312.0,314.0" fill="none" stroke="#9b6ee5" stroke-width="1" stroke-linejoin="round"/>
<polyline points="254.5,314.7 255.4,313.6 256.3,312.8 257.2,312.9 258.1,312.7 259.0,313.3 259.9,313.9 260.8,313.1 261.7,313.5 262.6,313.2 263.5,310.4 264.4,311.2 265.3,312.1 266.2,314.1 267.1,313.6 268.0,312.8 268.9,313.7 269.8,313.7 270.7,315.5 271.6,313.9 272.5,314.1 273.4,313.0 274.3,311.9 275.2,312.6 276.1,311.8 277.0,311.9 277.9,312.1 278.8,311.9 279.7,311.8 280.6,309.1 281.5,307.1 282.4,306.4 283.3,302.8 284.2,300.0 285.1,296.5 286.0,289.6 286.9,284.2 287.8,275.9 288.7,268.0 289.6,259.2 290.5,250.7 291.4,242.1 292.3,234.5 293.2,227.9 294.1,222.9 295.0,219.3 295.9,218.3 296.8,218.8 297.7,221.1 298.6,225.7 299.5,231.5 300.4,238.7 301.3,246.6 302.2,254.5 303.1,262.9 304.0,271.3 304.9,278.4 305.8,284.8 306.7,290.5 307.6,295.1 308.5,301.0 309.4,302.7 310.3,305.8 311.2,308.6 312.1,310.2 313.0,310.7 313.9,310.8 314.8,312.1 315.7,312.4 316.6,314.1 317.5,313.5 318.4,313.5 319.3,313.7 320.2,312.7 321.1,311.4 322.0,311.4 322.9,313.1 323.8,311.8 324.7,312.9 325.6,313.1 326.5,313.7 327.4,313.1 328.3,312.7 329.2,312.9 330.1,313.3 331.0,313.4 331.9,313.7" fill="none" stroke="#946de8" stroke-width="1" stroke-linejoin="round"/>
<polyline points="277.3,312.3 278.2,313.0 279.1,313.9 280.0,313.8 280.9,315.0 281.8,313.7 282.7,313.0 283.6,313.4 284.5,311.8 285.4,313.3 286.3,312.7 287.2,312.5 288.1,313.4 289.0,313.6 289.9,312.5 290.8,312.8 291.7,312.8 292.6,311.6 293.5,312.2 294.4,314.3 295.3,314.5 296.2,313.0 297.1,313.1 298.0,314.0 298.9,315.3 299.8,313.5 300.7,311.3 301.6,312.6 302.5,313.8 303.4,311.4 304.3,310.5 305.2,309.1 306.1,307.4 307.0,305.9 307.9,302.4 308.8,298.5 309.7,294.9 310.6,291.5 311.5,285.8 312.4,280.9 313.3,274.7 314.2,269.3 315.1,262.0 316.0,254.8 316.9,247.5 317.8,241.3 318.7,235.2 319.6,230.1 320.5,225.1 321.4,221.4 322.3,218.9 323.2,218.3 324.1,219.1 325.0,220.8 325.9,224.1 326.8,229.0 327.7,234.2 328.6,240.4 329.5,247.5 330.4,254.4 331.3,262.0 332.2,270.1 333.1,277.1 334.0,283.3 334.9,288.1 335.8,292.3 336.7,296.9 337.6,299.8 338.5,304.0 339.4,306.4 340.3,306.7 341.2,308.4 342.1,309.0 343.0,312.4 343.9,314.1 344.8,314.3 345.7,312.6 346.6,311.3 347.5,312.8 348.4,314.0 349.3,314.6 350.2,314.8 351.1,313.5 352.0,313.7 352.9,311.6 353.8,311.7 354.7,313.2 355.6,313.0 356.5,313.3 357.4,312.5 358.3,312.0 359.2,313.0 360.1,312.2 361.0,312.2 361.9,312.8 362.8,312.8" fill="none" stroke="#896bec" stroke-width="1" stroke-linejoin="round"/>
<polyline points="291.0,312.5 291.9,311.6 292.8,312.4 293.7,313.5 294.6,312.9 295.5,314.6 296.4,313.9 297.3,315.0 298.2,314.6 299.1,315.8 300.0,315.3 300.9,313.3 301.8,313.5 302.7,314.6 303.6,312.1 304.5,313.3 305.4,311.7 306.3,313.0 307.2,314.7 308.1,312.0 309.0,313.1 309.9,312.3 310.8,311.5 311.7,313.7 312.6,313.3 313.5,313.7 314.4,312.6 315.3,312.7 316.2,313.8 317.1,312.9 318.0,311.5 318.9,311.5 319.8,310.3 320.7,310.3 321.6,309.2 322.5,307.5 323.4,305.8 324.3,302.8 325.2,300.2 326.1,297.3 327.0,294.2 327.9,291.0 328.8,288.1 329.7,282.1 330.6,275.8 331.5,270.8 332.4,265.4 333.3,259.4 334.2,252.5 335.1,246.4 336.0,241.2 336.9,235.5 337.8,230.7 338.7,226.2 339.6,222.9 340.5,220.5 341.4,218.4 342.3,218.0 343.2,219.5 344.1,221.5 345.0,224.2 345.9,227.8 346.8,232.5 347.7,236.8 348.6,243.0 349.5,248.1 350.4,253.6 351.3,260.1 352.2,266.4 353.1,271.9 354.0,277.1 354.9,283.9 355.8,288.7 356.7,291.5 357.6,295.1 358.5,298.6 359.4,302.1 360.3,304.6 361.2,306.7 362.1,304.9 363.0,308.6 363.9,308.0 364.8,309.2 365.7,310.3 366.6,311.0 367.5,312.1 368.4,310.7 369.3,311.3 370.2,312.2 371.1,312.7 372.0,312.7 372.9,314.1 373.8,314.0 374.7,314.3 375.6,313.1 376.5,312.5 377.4,314.8 378.3,314.3 379.2,312.7 380.1,314.3 381.0,315.0 381.9,313.1 382.8,313.3 383.7,313.7 384.6,314.8 385.5,313.8 386.4,314.1 387.3,313.5 388.2,312.9 389.1,312.3 390.0,313.1 390.9,313.7" fill="none" stroke="#8269ee" stroke-width="1" stroke-linejoin="round"/>
<polyline points="359.9,313.2 360.8,313.9 361.7,313.9 362.6,314.3 363.5,314.5 364.4,313.7 365.3,312.0 366.2,313.3 367.1,312.5 368.0,312.4 368.9,312.7 369.8,312.1 370.7,313.4 371.6,312.6 372.5,312.5 373.4,317.2 374.3,314.7 375.2,313.1 376.1,310.4 377.0,312.8 377.9,312.2 378.8,311.3 379.7,312.0 380.6,308.9 381.5,307.3 382.4,306.8 383.3,305.2 384.2,301.4 385.1,293.7 386.0,287.2 386.9,285.0 387.8,279.1 388.7,269.6 389.6,261.1 390.5,252.7 391.4,243.6 392.3,235.7 393.2,228.8 394.1,223.4 395.0,220.3 395.9,218.1 396.8,218.9 397.7,220.7 398.6,224.6 399.5,230.4 400.4,237.1 401.3,244.7 402.2,254.0 403.1,261.7 404.0,268.8 404.9,277.7 405.8,285.2 406.7,289.0 407.6,293.3 408.5,299.9 409.4,302.3 410.3,305.2 411.2,306.2 412.1,308.9 413.0,310.5 413.9,312.3 414.8,312.2 415.7,312.7 416.6,313.7 417.5,313.8 418.4,314.4 419.3,313.0 420.2,314.4 421.1,315.8 422.0,315.8 422.9,313.1 423.8,313.8 424.7,312.7 425.6,312.0 426.5,313.3 427.4,312.3 428.3,312.1 429.2,312.7 430.1,313.9 431.0,313.6 431.9,315.1" fill="none" stroke="#6e65f6" stroke-width="1" stroke-linejoin="round"/>
<polyline points="345.5,312.7 346.4,312.5 347.3,313.7 348.2,312.3 349.1,311.2 350.0,312.2 350.9,313.7 351.8,312.8 352.7,316.2 353.6,315.5 354.5,313.6 355.4,310.8 356.3,313.0 357.2,311.1 358.1,309.1 359.0,308.7 359.9,314.1 360.8,312.2 361.7,312.5 362.6,311.5 363.5,312.6 364.4,313.7 365.3,313.8 366.2,311.5 367.1,311.2 368.0,312.6 368.9,312.4 369.8,311.6 370.7,311.5 371.6,312.3 372.5,313.4 373.4,314.0 374.3,313.8 375.2,313.7 376.1,314.8 377.0,315.0 377.9,311.8 378.8,312.4 379.7,312.6 380.6,310.6 381.5,307.0 382.4,304.8 383.3,305.0 384.2,304.8 385.1,302.9 386.0,301.1 386.9,298.3 387.8,294.0 388.7,291.7 389.6,288.2 390.5,283.7 391.4,278.8 392.3,274.6 393.2,269.9 394.1,265.1 395.0,259.7 395.9,253.4 396.8,248.2 397.7,244.9 398.6,238.6 399.5,233.8 400.4,229.9 401.3,226.2 402.2,224.4 403.1,222.1 404.0,219.4 404.9,217.7 405.8,217.2 406.7,218.7 407.6,219.8 408.5,221.1 409.4,223.8 410.3,225.1 411.2,228.5 412.1,231.4 413.0,235.5 413.9,238.6 414.8,242.4 415.7,245.6 416.6,250.9 417.5,254.8 418.4,257.3 419.3,263.1 420.2,266.7 421.1,270.3 422.0,274.8 422.9,278.6 423.8,280.4 424.7,283.1 425.6,286.5 426.5,289.8 427.4,294.3 428.3,296.2 429.2,296.1 430.1,297.8 431.0,302.4 431.9,306.3 432.8,307.1 433.7,307.0 434.6,308.4 435.5,309.2 436.4,309.0 437.3,308.6 438.2,309.5 439.1,308.8 440.0,312.1 440.9,311.4 441.8,311.3 442.7,313.8 443.6,311.6 444.5,314.3 445.4,315.5 446.3,310.7 447.2,310.1 448.1,311.1 449.0,310.3 449.9,310.2 450.8,313.2 451.7,312.5 452.6,311.0 453.5,312.3 454.4,312.7 455.3,313.6 456.2,312.4 457.1,313.6 458.0,314.2 458.9,315.4 459.8,315.6 460.7,314.1 461.6,313.1" fill="none" stroke="#6a64f7" stroke-width="1" stroke-linejoin="round"/>
<polyline points="374.7,312.8 375.6,312.5 376.5,311.1 377.4,312.9 378.3,313.7 379.2,312.7 380.1,310.8 381.0,312.1 381.9,312.8 382.8,314.4 383.7,314.4 384.6,312.5 385.5,311.6 386.4,310.8 387.3,314.4 388.2,312.6 389.1,314.3 390.0,312.9 390.9,316.5 391.8,315.0 392.7,315.4 393.6,312.5 394.5,312.7 395.4,311.0 396.3,312.7 397.2,310.1 398.1,312.1 399.0,309.8 399.9,311.9 400.8,313.5 401.7,311.5 402.6,312.1 403.5,311.7 404.4,312.9 405.3,311.6 406.2,309.7 407.1,309.2 408.0,306.5 408.9,307.7 409.8,302.8 410.7,300.5 411.6,295.2 412.5,292.9 413.4,289.9 414.3,285.6 415.2,280.0 416.1,274.0 417.0,269.1 417.9,263.8 418.8,257.0 419.7,250.3 420.6,245.9 421.5,240.4 422.4,234.9 423.3,228.8 424.2,224.4 425.1,221.2 426.0,219.2 426.9,218.8 427.8,218.1 428.7,220.3 429.6,224.4 430.5,228.7 431.4,237.0 432.3,243.7 433.2,252.4 434.1,262.1 435.0,270.0 435.9,278.7 436.8,285.0 437.7,291.9 438.6,298.1 439.5,298.0 440.4,303.3 441.3,304.9 442.2,307.8 443.1,308.7 444.0,312.2 444.9,313.9 445.8,318.1 446.7,314.1 447.6,313.0 448.5,314.8 449.4,312.8 450.3,312.2 451.2,308.5 452.1,310.5 453.0,310.6 453.9,311.0 454.8,311.0 455.7,312.2 456.6,313.3 457.5,312.3 458.4,311.0 459.3,313.8 460.2,315.2 461.1,314.3 462.0,311.2" fill="none" stroke="#6663f8" stroke-width="1" stroke-linejoin="round"/>
<polyline points="405.5,312.0 406.4,311.5 407.3,309.5 408.2,311.1 409.1,309.2 410.0,312.3 410.9,311.4 411.8,312.1 412.7,314.5 413.6,314.3 414.5,311.8 415.4,310.8 416.3,312.6 417.2,311.3 418.1,310.9 419.0,310.7 419.9,311.5 420.8,311.9 421.7,313.7 422.6,313.4 423.5,312.8 424.4,313.6 425.3,313.0 426.2,311.5 427.1,309.9 428.0,306.7 428.9,306.5 429.8,303.3 430.7,298.0 431.6,292.8 432.5,285.2 433.4,277.6 434.3,267.1 435.2,258.0 436.1,249.1 437.0,238.8 437.9,229.6 438.8,224.6 439.7,220.2 440.6,218.5 441.5,219.1 442.4,222.0 443.3,228.1 444.2,236.6 445.1,244.1 446.0,252.4 446.9,261.6 447.8,270.9 448.7,280.3 449.6,284.3 450.5,293.4 451.4,300.4 452.3,302.1 453.2,305.0 454.1,306.7 455.0,308.6 455.9,307.9 456.8,308.1 457.7,311.3 458.6,310.7 459.5,313.7 460.4,316.0 461.3,312.8 462.2,313.7" fill="none" stroke="#6462f9" stroke-width="1" stroke-linejoin="round"/>
<rect x="509.4" y="11.3" width="158.0" height="125.3" fill="none" stroke="#666" stroke-width="0.9"/>
<path d="M507.0,136.60 L509.4,136.60" stroke="#666" stroke-width="0.9"/>
<text class="tk" x="492.8" y="140.00" font-family="Liberation Sans" font-size="9.6" fill="#000">10<tspan font-size="6.6" dy="-3.3">0</tspan></text>
<path d="M508.09999999999997,124.03 L509.4,124.03" stroke="#666" stroke-width="0.7"/>
<path d="M508.09999999999997,116.67 L509.4,116.67" stroke="#666" stroke-width="0.7"/>
<path d="M508.09999999999997,111.45 L509.4,111.45" stroke="#666" stroke-width="0.7"/>
<path d="M508.09999999999997,107.41 L509.4,107.41" stroke="#666" stroke-width="0.7"/>
<path d="M508.09999999999997,104.10 L509.4,104.10" stroke="#666" stroke-width="0.7"/>
<path d="M508.09999999999997,101.30 L509.4,101.30" stroke="#666" stroke-width="0.7"/>
<path d="M508.09999999999997,98.88 L509.4,98.88" stroke="#666" stroke-width="0.7"/>
<path d="M508.09999999999997,96.74 L509.4,96.74" stroke="#666" stroke-width="0.7"/>
<path d="M507.0,94.83 L509.4,94.83" stroke="#666" stroke-width="0.9"/>
<text class="tk" x="492.8" y="98.23" font-family="Liberation Sans" font-size="9.6" fill="#000">10<tspan font-size="6.6" dy="-3.3">1</tspan></text>
<path d="M508.09999999999997,82.26 L509.4,82.26" stroke="#666" stroke-width="0.7"/>
<path d="M508.09999999999997,74.91 L509.4,74.91" stroke="#666" stroke-width="0.7"/>
<path d="M508.09999999999997,69.69 L509.4,69.69" stroke="#666" stroke-width="0.7"/>
<path d="M508.09999999999997,65.64 L509.4,65.64" stroke="#666" stroke-width="0.7"/>
<path d="M508.09999999999997,62.33 L509.4,62.33" stroke="#666" stroke-width="0.7"/>
<path d="M508.09999999999997,59.54 L509.4,59.54" stroke="#666" stroke-width="0.7"/>
<path d="M508.09999999999997,57.11 L509.4,57.11" stroke="#666" stroke-width="0.7"/>
<path d="M508.09999999999997,54.98 L509.4,54.98" stroke="#666" stroke-width="0.7"/>
<path d="M507.0,53.07 L509.4,53.07" stroke="#666" stroke-width="0.9"/>
<text class="tk" x="492.8" y="56.47" font-family="Liberation Sans" font-size="9.6" fill="#000">10<tspan font-size="6.6" dy="-3.3">2</tspan></text>
<path d="M508.09999999999997,40.49 L509.4,40.49" stroke="#666" stroke-width="0.7"/>
<path d="M508.09999999999997,33.14 L509.4,33.14" stroke="#666" stroke-width="0.7"/>
<path d="M508.09999999999997,27.92 L509.4,27.92" stroke="#666" stroke-width="0.7"/>
<path d="M508.09999999999997,23.87 L509.4,23.87" stroke="#666" stroke-width="0.7"/>
<path d="M508.09999999999997,20.57 L509.4,20.57" stroke="#666" stroke-width="0.7"/>
<path d="M508.09999999999997,17.77 L509.4,17.77" stroke="#666" stroke-width="0.7"/>
<path d="M508.09999999999997,15.35 L509.4,15.35" stroke="#666" stroke-width="0.7"/>
<path d="M508.09999999999997,13.21 L509.4,13.21" stroke="#666" stroke-width="0.7"/>
<path d="M507.0,11.30 L509.4,11.30" stroke="#666" stroke-width="0.9"/>
<text class="tk" x="492.8" y="14.70" font-family="Liberation Sans" font-size="9.6" fill="#000">10<tspan font-size="6.6" dy="-3.3">3</tspan></text>
<path d="M533.70,136.6 L533.70,139.0" stroke="#666" stroke-width="0.9"/>
<text class="tk" x="533.70" y="150.6" font-family="Liberation Sans" font-size="9.6" text-anchor="middle" fill="#000">1</text>
<path d="M643.00,136.6 L643.00,139.0" stroke="#666" stroke-width="0.9"/>
<text class="tk" x="643.00" y="150.6" font-family="Liberation Sans" font-size="9.6" text-anchor="middle" fill="#000">10</text>
<path d="M509.45,136.6 L509.45,137.9" stroke="#666" stroke-width="0.7"/>
<path d="M516.77,136.6 L516.77,137.9" stroke="#666" stroke-width="0.7"/>
<path d="M523.11,136.6 L523.11,137.9" stroke="#666" stroke-width="0.7"/>
<path d="M528.70,136.6 L528.70,137.9" stroke="#666" stroke-width="0.7"/>
<path d="M566.60,136.6 L566.60,137.9" stroke="#666" stroke-width="0.7"/>
<path d="M585.85,136.6 L585.85,137.9" stroke="#666" stroke-width="0.7"/>
<path d="M599.51,136.6 L599.51,137.9" stroke="#666" stroke-width="0.7"/>
<path d="M610.10,136.6 L610.10,137.9" stroke="#666" stroke-width="0.7"/>
<path d="M618.75,136.6 L618.75,137.9" stroke="#666" stroke-width="0.7"/>
<path d="M626.07,136.6 L626.07,137.9" stroke="#666" stroke-width="0.7"/>
<path d="M632.41,136.6 L632.41,137.9" stroke="#666" stroke-width="0.7"/>
<path d="M638.00,136.6 L638.00,137.9" stroke="#666" stroke-width="0.7"/>
<text class="tk" x="506.2" y="163.6" font-family="Liberation Sans" font-size="10.6" fill="#000" textLength="158" lengthAdjust="spacingAndGlyphs">Peak excitation intensity (GW cm</text>
<text class="tk" x="664.3" y="159.5" font-family="Liberation Sans" font-size="6.6" fill="#000">-2</text>
<text class="tk" x="670.6" y="163.6" font-family="Liberation Sans" font-size="10.6" fill="#000">)</text>
<text class="tk" transform="translate(487.6,74) rotate(-90)" font-family="Liberation Sans" font-size="10.75" fill="#000" text-anchor="middle">SHG Intensity (arb. units)</text>
<path d="M523.3,125.0 L657.1,24.8" stroke="#6e6ef4" stroke-width="1.25"/>
<circle cx="523.5" cy="124.6" r="2.8" fill="#6464f6"/><circle cx="523.0" cy="124.0" r="1.1" fill="#dcdcff"/>
<circle cx="566.6" cy="89.0" r="2.8" fill="#6464f6"/><circle cx="566.1" cy="88.4" r="1.1" fill="#dcdcff"/>
<circle cx="590" cy="72.3" r="2.8" fill="#6464f6"/><circle cx="589.5" cy="71.7" r="1.1" fill="#dcdcff"/>
<circle cx="613.5" cy="55.8" r="2.8" fill="#6464f6"/><circle cx="613.0" cy="55.199999999999996" r="1.1" fill="#dcdcff"/>
<circle cx="624.9" cy="46.1" r="2.8" fill="#6464f6"/><circle cx="624.4" cy="45.5" r="1.1" fill="#dcdcff"/>
<circle cx="636.9" cy="38.6" r="2.8" fill="#6464f6"/><circle cx="636.4" cy="38.0" r="1.1" fill="#dcdcff"/>
<circle cx="641.7" cy="34.2" r="2.8" fill="#6464f6"/><circle cx="641.2" cy="33.6" r="1.1" fill="#dcdcff"/>
<circle cx="651.3" cy="29" r="2.8" fill="#6464f6"/><circle cx="650.8" cy="28.4" r="1.1" fill="#dcdcff"/>
<circle cx="657.1" cy="24.7" r="2.8" fill="#6464f6"/><circle cx="656.6" cy="24.099999999999998" r="1.1" fill="#dcdcff"/>
<circle cx="529.4" cy="30.5" r="2.5" fill="#6a6af6"/><circle cx="528.8" cy="29.9" r="1" fill="#d8d8ff"/>
<path d="M519.8,41 L539.1,41" stroke="#7474f4" stroke-width="1.2"/>
<text class="tk" x="547.3" y="33" font-family="Liberation Sans" font-size="9.5" fill="#000">Exp.</text>
<text class="tk" x="547.9" y="44.5" font-family="Liberation Sans" font-size="9.5" fill="#000">Fit</text>
<text class="tk" transform="translate(538.0,100.4) rotate(-35.5)" font-family="Liberation Sans" font-size="11.1" fill="#000">Slope, 1.93 ± 0.03</text>
<text class="tk" x="541.4" y="124.9" font-family="Liberation Sans" font-size="10.8" fill="#000">λ<tspan font-size="7.6" dy="2.7">SHG</tspan><tspan dy="-2.7">= 2 μm</tspan></text>
<path d="M615.3,79 L649.4,79" stroke="#111" stroke-width="1.4" stroke-dasharray="3,1.7"/>
<path d="M615.3,129.1 L649.4,129.1" stroke="#111" stroke-width="1.6"/>
<path d="M625.3,129 L625.3,108" stroke="#f7646e" stroke-width="1.5"/><path d="M625.3,105.6 L621.9,114.2 L625.3,112 L628.7,114.2 Z" fill="#f7646e"/>
<path d="M625.3,108 L625.3,83" stroke="#f7646e" stroke-width="1.5"/><path d="M625.3,79.4 L621.9,88 L625.3,85.8 L628.7,88 Z" fill="#f7646e"/>
<path d="M634.4,79 L634.4,122" stroke="#5a5af2" stroke-width="1.5"/><path d="M634.4,128.6 L630.9,119.6 L634.4,121.8 L637.9,119.6 Z" fill="#5a5af2"/>
<text x="612.2" y="96.6" font-family="Liberation Serif" font-style="italic" font-size="11" fill="#f7646e">ω</text>
<text x="612.2" y="119.2" font-family="Liberation Serif" font-style="italic" font-size="11" fill="#f7646e">ω</text>
<text x="643" y="108.8" font-family="Liberation Serif" font-size="11" fill="#5a5af2">2<tspan font-style="italic">ω</tspan></text>
<g stroke="#d0d0d0" stroke-width="0.7" fill="none">
<circle cx="588.6" cy="254.0" r="13.50"/>
<circle cx="588.6" cy="254.0" r="27.00"/>
<circle cx="588.6" cy="254.0" r="40.50"/>
<circle cx="588.6" cy="254.0" r="54.00"/>
<path d="M588.6,254.0 L588.60,314.40"/>
<path d="M588.6,254.0 L631.31,296.71"/>
<path d="M588.6,254.0 L649.00,254.00"/>
<path d="M588.6,254.0 L631.31,211.29"/>
<path d="M588.6,254.0 L588.60,193.60"/>
<path d="M588.6,254.0 L545.89,211.29"/>
<path d="M588.6,254.0 L528.20,254.00"/>
<path d="M588.6,254.0 L545.89,296.71"/>
</g>
<circle cx="588.6" cy="254.0" r="60.4" fill="none" stroke="#222" stroke-width="1"/>
<path d="M509,193.5 L509,314.4" stroke="#444" stroke-width="0.9"/>
<path d="M506.6,199.7 L509,199.7" stroke="#444" stroke-width="0.9"/>
<text class="tk" x="505.8" y="203.1" font-family="Liberation Sans" font-size="9.6" fill="#000" text-anchor="end">1.0</text>
<path d="M506.6,226.7 L509,226.7" stroke="#444" stroke-width="0.9"/>
<text class="tk" x="505.8" y="230.1" font-family="Liberation Sans" font-size="9.6" fill="#000" text-anchor="end">0.5</text>
<path d="M506.6,253.8 L509,253.8" stroke="#444" stroke-width="0.9"/>
<text class="tk" x="505.8" y="257.2" font-family="Liberation Sans" font-size="9.6" fill="#000" text-anchor="end">0.0</text>
<path d="M506.6,280.9 L509,280.9" stroke="#444" stroke-width="0.9"/>
<text class="tk" x="505.8" y="284.29999999999995" font-family="Liberation Sans" font-size="9.6" fill="#000" text-anchor="end">0.5</text>
<path d="M506.6,308 L509,308" stroke="#444" stroke-width="0.9"/>
<text class="tk" x="505.8" y="311.4" font-family="Liberation Sans" font-size="9.6" fill="#000" text-anchor="end">1.0</text>
<text class="tk" transform="translate(487.8,252.4) rotate(-90)" font-family="Liberation Sans" font-size="10.7" fill="#000" text-anchor="middle">SHG intensity (norm.)</text>
<text class="tk" x="588.1" y="189.6" font-family="Liberation Sans" font-size="9.6" fill="#000" text-anchor="middle">180</text>
<text class="tk" x="588.6" y="327.3" font-family="Liberation Sans" font-size="9.6" fill="#000" text-anchor="middle">0</text>
<text class="tk" x="519.6" y="257.4" font-family="Liberation Sans" font-size="9.6" fill="#000" text-anchor="middle">270</text>
<text class="tk" x="656" y="257.4" font-family="Liberation Sans" font-size="9.6" fill="#000" text-anchor="middle">90</text>
<text class="tk" x="637" y="208.2" font-family="Liberation Sans" font-size="9.6" fill="#000" text-anchor="middle">135</text>
<text class="tk" x="537.8" y="209.6" font-family="Liberation Sans" font-size="9.6" fill="#000" text-anchor="middle">225</text>
<text class="tk" x="537.4" y="306.2" font-family="Liberation Sans" font-size="9.6" fill="#000" text-anchor="middle">315</text>
<text class="tk" x="637" y="307.3" font-family="Liberation Sans" font-size="9.6" fill="#000" text-anchor="middle">45</text>
<polygon points="588.60,309.89 590.55,309.79 592.48,309.48 594.38,308.98 596.23,308.27 598.01,307.38 599.72,306.31 601.33,305.06 602.83,303.64 604.22,302.08 605.48,300.38 606.60,298.55 607.57,296.61 608.39,294.58 609.06,292.47 609.56,290.30 609.90,288.09 610.08,285.85 610.10,283.59 609.97,281.35 609.68,279.12 609.25,276.94 608.69,274.80 608.00,272.73 607.20,270.74 606.29,268.84 605.29,267.04 604.22,265.35 603.09,263.77 601.91,262.32 600.70,260.99 599.48,259.78 598.25,258.71 597.05,257.76 595.87,256.94 594.74,256.24 593.68,255.65 592.68,255.17 591.77,254.79 590.96,254.50 590.26,254.29 589.67,254.15 589.21,254.06 588.87,254.02 588.67,254.00 588.60,254.00 588.67,254.00 588.87,253.98 589.21,253.94 589.67,253.85 590.26,253.71 590.96,253.50 591.77,253.21 592.68,252.83 593.68,252.35 594.74,251.76 595.87,251.06 597.05,250.24 598.25,249.29 599.48,248.22 600.70,247.01 601.91,245.68 603.09,244.23 604.22,242.65 605.29,240.96 606.29,239.16 607.20,237.26 608.00,235.27 608.69,233.20 609.25,231.06 609.68,228.88 609.97,226.65 610.10,224.41 610.08,222.15 609.90,219.91 609.56,217.70 609.06,215.53 608.39,213.42 607.57,211.39 606.60,209.45 605.48,207.62 604.22,205.92 602.83,204.36 601.33,202.94 599.72,201.69 598.01,200.62 596.23,199.73 594.38,199.02 592.48,198.52 590.55,198.21 588.60,198.11 586.65,198.21 584.72,198.52 582.82,199.02 580.97,199.73 579.19,200.62 577.48,201.69 575.87,202.94 574.37,204.36 572.98,205.92 571.72,207.62 570.60,209.45 569.63,211.39 568.81,213.42 568.14,215.53 567.64,217.70 567.30,219.91 567.12,222.15 567.10,224.41 567.23,226.65 567.52,228.88 567.95,231.06 568.51,233.20 569.20,235.27 570.00,237.26 570.91,239.16 571.91,240.96 572.98,242.65 574.11,244.23 575.29,245.68 576.50,247.01 577.72,248.22 578.95,249.29 580.15,250.24 581.33,251.06 582.46,251.76 583.52,252.35 584.52,252.83 585.43,253.21 586.24,253.50 586.94,253.71 587.53,253.85 587.99,253.94 588.33,253.98 588.53,254.00 588.60,254.00 588.53,254.00 588.33,254.02 587.99,254.06 587.53,254.15 586.94,254.29 586.24,254.50 585.43,254.79 584.52,255.17 583.52,255.65 582.46,256.24 581.33,256.94 580.15,257.76 578.95,258.71 577.72,259.78 576.50,260.99 575.29,262.32 574.11,263.77 572.98,265.35 571.91,267.04 570.91,268.84 570.00,270.74 569.20,272.73 568.51,274.80 567.95,276.94 567.52,279.12 567.23,281.35 567.10,283.59 567.12,285.85 567.30,288.09 567.64,290.30 568.14,292.47 568.81,294.58 569.63,296.61 570.60,298.55 571.72,300.38 572.98,302.08 574.37,303.64 575.87,305.06 577.48,306.31 579.19,307.38 580.97,308.27 582.82,308.98 584.72,309.48 586.65,309.79 588.60,309.89" fill="none" stroke="#f45a66" stroke-width="0.8"/>
<circle cx="588.60" cy="308.57" r="1.9" fill="#f45a66"/><circle cx="588.10" cy="308.07" r="0.6" fill="#fff" opacity="0.75"/>
<circle cx="597.80" cy="306.16" r="1.9" fill="#f45a66"/><circle cx="597.30" cy="305.66" r="0.6" fill="#fff" opacity="0.75"/>
<circle cx="605.71" cy="301.00" r="1.9" fill="#f45a66"/><circle cx="605.21" cy="300.50" r="0.6" fill="#fff" opacity="0.75"/>
<circle cx="608.60" cy="288.64" r="1.9" fill="#f45a66"/><circle cx="608.10" cy="288.14" r="0.6" fill="#fff" opacity="0.75"/>
<circle cx="609.62" cy="279.05" r="1.9" fill="#f45a66"/><circle cx="609.12" cy="278.55" r="0.6" fill="#fff" opacity="0.75"/>
<circle cx="605.49" cy="268.17" r="1.9" fill="#f45a66"/><circle cx="604.99" cy="267.67" r="0.6" fill="#fff" opacity="0.75"/>
<circle cx="600.97" cy="261.14" r="1.9" fill="#f45a66"/><circle cx="600.47" cy="260.64" r="0.6" fill="#fff" opacity="0.75"/>
<circle cx="594.77" cy="256.25" r="1.9" fill="#f45a66"/><circle cx="594.27" cy="255.75" r="0.6" fill="#fff" opacity="0.75"/>
<circle cx="594.71" cy="251.78" r="1.9" fill="#f45a66"/><circle cx="594.21" cy="251.28" r="0.6" fill="#fff" opacity="0.75"/>
<circle cx="600.52" cy="247.12" r="1.9" fill="#f45a66"/><circle cx="600.02" cy="246.62" r="0.6" fill="#fff" opacity="0.75"/>
<circle cx="606.34" cy="239.11" r="1.9" fill="#f45a66"/><circle cx="605.84" cy="238.61" r="0.6" fill="#fff" opacity="0.75"/>
<circle cx="609.15" cy="229.51" r="1.9" fill="#f45a66"/><circle cx="608.65" cy="229.01" r="0.6" fill="#fff" opacity="0.75"/>
<circle cx="609.41" cy="217.96" r="1.9" fill="#f45a66"/><circle cx="608.91" cy="217.46" r="0.6" fill="#fff" opacity="0.75"/>
<circle cx="605.71" cy="206.98" r="1.9" fill="#f45a66"/><circle cx="605.21" cy="206.48" r="0.6" fill="#fff" opacity="0.75"/>
<circle cx="598.02" cy="200.56" r="1.9" fill="#f45a66"/><circle cx="597.52" cy="200.06" r="0.6" fill="#fff" opacity="0.75"/>
<circle cx="588.60" cy="198.57" r="1.9" fill="#f45a66"/><circle cx="588.10" cy="198.07" r="0.6" fill="#fff" opacity="0.75"/>
<circle cx="578.78" cy="198.28" r="1.9" fill="#f45a66"/><circle cx="578.28" cy="197.78" r="0.6" fill="#fff" opacity="0.75"/>
<circle cx="571.70" cy="207.57" r="1.9" fill="#f45a66"/><circle cx="571.20" cy="207.07" r="0.6" fill="#fff" opacity="0.75"/>
<circle cx="567.89" cy="218.12" r="1.9" fill="#f45a66"/><circle cx="567.39" cy="217.62" r="0.6" fill="#fff" opacity="0.75"/>
<circle cx="567.45" cy="228.80" r="1.9" fill="#f45a66"/><circle cx="566.95" cy="228.30" r="0.6" fill="#fff" opacity="0.75"/>
<circle cx="571.10" cy="239.31" r="1.9" fill="#f45a66"/><circle cx="570.60" cy="238.81" r="0.6" fill="#fff" opacity="0.75"/>
<circle cx="576.59" cy="247.07" r="1.9" fill="#f45a66"/><circle cx="576.09" cy="246.57" r="0.6" fill="#fff" opacity="0.75"/>
<circle cx="582.50" cy="251.78" r="1.9" fill="#f45a66"/><circle cx="582.00" cy="251.28" r="0.6" fill="#fff" opacity="0.75"/>
<circle cx="582.37" cy="256.27" r="1.9" fill="#f45a66"/><circle cx="581.87" cy="255.77" r="0.6" fill="#fff" opacity="0.75"/>
<circle cx="576.01" cy="261.27" r="1.9" fill="#f45a66"/><circle cx="575.51" cy="260.77" r="0.6" fill="#fff" opacity="0.75"/>
<circle cx="570.99" cy="268.78" r="1.9" fill="#f45a66"/><circle cx="570.49" cy="268.28" r="0.6" fill="#fff" opacity="0.75"/>
<circle cx="567.78" cy="278.81" r="1.9" fill="#f45a66"/><circle cx="567.28" cy="278.31" r="0.6" fill="#fff" opacity="0.75"/>
<circle cx="566.60" cy="292.10" r="1.9" fill="#f45a66"/><circle cx="566.10" cy="291.60" r="0.6" fill="#fff" opacity="0.75"/>
<circle cx="572.21" cy="299.02" r="1.9" fill="#f45a66"/><circle cx="571.71" cy="298.52" r="0.6" fill="#fff" opacity="0.75"/>
<circle cx="579.26" cy="306.99" r="1.9" fill="#f45a66"/><circle cx="578.76" cy="306.49" r="0.6" fill="#fff" opacity="0.75"/>
<polygon points="588.60,286.40 589.73,286.33 590.85,286.12 591.94,285.78 593.00,285.31 594.01,284.71 594.97,283.99 595.87,283.15 596.69,282.22 597.43,281.18 598.09,280.06 598.65,278.87 599.11,277.61 599.48,276.30 599.74,274.96 599.91,273.58 599.97,272.20 599.94,270.81 599.81,269.43 599.60,268.07 599.30,266.75 598.92,265.46 598.48,264.23 597.97,263.05 597.42,261.94 596.82,260.90 596.19,259.93 595.54,259.04 594.88,258.24 594.22,257.51 593.56,256.86 592.92,256.30 592.31,255.81 591.72,255.39 591.18,255.04 590.68,254.76 590.24,254.53 589.84,254.36 589.50,254.23 589.22,254.13 589.00,254.07 588.83,254.03 588.71,254.01 588.64,254.00 588.61,254.00 588.60,254.00 588.61,254.00 588.64,254.00 588.71,253.99 588.83,253.97 589.00,253.93 589.22,253.87 589.50,253.77 589.84,253.64 590.24,253.47 590.68,253.24 591.18,252.96 591.72,252.61 592.31,252.19 592.92,251.70 593.56,251.14 594.22,250.49 594.88,249.76 595.54,248.96 596.19,248.07 596.82,247.10 597.42,246.06 597.97,244.95 598.48,243.77 598.92,242.54 599.30,241.25 599.60,239.93 599.81,238.57 599.94,237.19 599.97,235.80 599.91,234.42 599.74,233.04 599.48,231.70 599.11,230.39 598.65,229.13 598.09,227.94 597.43,226.82 596.69,225.78 595.87,224.85 594.97,224.01 594.01,223.29 593.00,222.69 591.94,222.22 590.85,221.88 589.73,221.67 588.60,221.60 587.47,221.67 586.35,221.88 585.26,222.22 584.20,222.69 583.19,223.29 582.23,224.01 581.33,224.85 580.51,225.78 579.77,226.82 579.11,227.94 578.55,229.13 578.09,230.39 577.72,231.70 577.46,233.04 577.29,234.42 577.23,235.80 577.26,237.19 577.39,238.57 577.60,239.93 577.90,241.25 578.28,242.54 578.72,243.77 579.23,244.95 579.78,246.06 580.38,247.10 581.01,248.07 581.66,248.96 582.32,249.76 582.98,250.49 583.64,251.14 584.28,251.70 584.89,252.19 585.48,252.61 586.02,252.96 586.52,253.24 586.96,253.47 587.36,253.64 587.70,253.77 587.98,253.87 588.20,253.93 588.37,253.97 588.49,253.99 588.56,254.00 588.59,254.00 588.60,254.00 588.59,254.00 588.56,254.00 588.49,254.01 588.37,254.03 588.20,254.07 587.98,254.13 587.70,254.23 587.36,254.36 586.96,254.53 586.52,254.76 586.02,255.04 585.48,255.39 584.89,255.81 584.28,256.30 583.64,256.86 582.98,257.51 582.32,258.24 581.66,259.04 581.01,259.93 580.38,260.90 579.78,261.94 579.23,263.05 578.72,264.23 578.28,265.46 577.90,266.75 577.60,268.07 577.39,269.43 577.26,270.81 577.23,272.20 577.29,273.58 577.46,274.96 577.72,276.30 578.09,277.61 578.55,278.87 579.11,280.06 579.77,281.18 580.51,282.22 581.33,283.15 582.23,283.99 583.19,284.71 584.20,285.31 585.26,285.78 586.35,286.12 587.47,286.33 588.60,286.40" fill="none" stroke="#d45a92" stroke-width="0.8"/>
<circle cx="588.60" cy="286.83" r="1.9" fill="#d45a92"/><circle cx="588.10" cy="286.33" r="0.6" fill="#fff" opacity="0.75"/>
<circle cx="592.09" cy="287.23" r="1.9" fill="#d45a92"/><circle cx="591.59" cy="286.73" r="0.6" fill="#fff" opacity="0.75"/>
<circle cx="594.85" cy="283.42" r="1.9" fill="#d45a92"/><circle cx="594.35" cy="282.92" r="0.6" fill="#fff" opacity="0.75"/>
<circle cx="597.00" cy="279.86" r="1.9" fill="#d45a92"/><circle cx="596.50" cy="279.36" r="0.6" fill="#fff" opacity="0.75"/>
<circle cx="599.25" cy="277.92" r="1.9" fill="#d45a92"/><circle cx="598.75" cy="277.42" r="0.6" fill="#fff" opacity="0.75"/>
<circle cx="599.79" cy="273.38" r="1.9" fill="#d45a92"/><circle cx="599.29" cy="272.88" r="0.6" fill="#fff" opacity="0.75"/>
<circle cx="599.72" cy="269.31" r="1.9" fill="#d45a92"/><circle cx="599.22" cy="268.81" r="0.6" fill="#fff" opacity="0.75"/>
<circle cx="599.02" cy="265.57" r="1.9" fill="#d45a92"/><circle cx="598.52" cy="265.07" r="0.6" fill="#fff" opacity="0.75"/>
<circle cx="597.46" cy="261.98" r="1.9" fill="#d45a92"/><circle cx="596.96" cy="261.48" r="0.6" fill="#fff" opacity="0.75"/>
<circle cx="595.58" cy="259.07" r="1.9" fill="#d45a92"/><circle cx="595.08" cy="258.57" r="0.6" fill="#fff" opacity="0.75"/>
<circle cx="593.52" cy="256.84" r="1.9" fill="#d45a92"/><circle cx="593.02" cy="256.34" r="0.6" fill="#fff" opacity="0.75"/>
<circle cx="591.80" cy="255.43" r="1.9" fill="#d45a92"/><circle cx="591.30" cy="254.93" r="0.6" fill="#fff" opacity="0.75"/>
<circle cx="591.79" cy="252.58" r="1.9" fill="#d45a92"/><circle cx="591.29" cy="252.08" r="0.6" fill="#fff" opacity="0.75"/>
<circle cx="593.55" cy="251.14" r="1.9" fill="#d45a92"/><circle cx="593.05" cy="250.64" r="0.6" fill="#fff" opacity="0.75"/>
<circle cx="595.50" cy="248.99" r="1.9" fill="#d45a92"/><circle cx="595.00" cy="248.49" r="0.6" fill="#fff" opacity="0.75"/>
<circle cx="597.46" cy="246.03" r="1.9" fill="#d45a92"/><circle cx="596.96" cy="245.53" r="0.6" fill="#fff" opacity="0.75"/>
<circle cx="598.91" cy="242.54" r="1.9" fill="#d45a92"/><circle cx="598.41" cy="242.04" r="0.6" fill="#fff" opacity="0.75"/>
<circle cx="599.81" cy="238.57" r="1.9" fill="#d45a92"/><circle cx="599.31" cy="238.07" r="0.6" fill="#fff" opacity="0.75"/>
<circle cx="599.47" cy="235.17" r="1.9" fill="#d45a92"/><circle cx="598.97" cy="234.67" r="0.6" fill="#fff" opacity="0.75"/>
<circle cx="599.48" cy="229.56" r="1.9" fill="#d45a92"/><circle cx="598.98" cy="229.06" r="0.6" fill="#fff" opacity="0.75"/>
<circle cx="597.47" cy="226.71" r="1.9" fill="#d45a92"/><circle cx="596.97" cy="226.21" r="0.6" fill="#fff" opacity="0.75"/>
<circle cx="594.86" cy="224.54" r="1.9" fill="#d45a92"/><circle cx="594.36" cy="224.04" r="0.6" fill="#fff" opacity="0.75"/>
<circle cx="592.01" cy="221.59" r="1.9" fill="#d45a92"/><circle cx="591.51" cy="221.09" r="0.6" fill="#fff" opacity="0.75"/>
<circle cx="588.60" cy="221.40" r="1.9" fill="#d45a92"/><circle cx="588.10" cy="220.90" r="0.6" fill="#fff" opacity="0.75"/>
<circle cx="585.26" cy="222.21" r="1.9" fill="#d45a92"/><circle cx="584.76" cy="221.71" r="0.6" fill="#fff" opacity="0.75"/>
<circle cx="582.09" cy="223.38" r="1.9" fill="#d45a92"/><circle cx="581.59" cy="222.88" r="0.6" fill="#fff" opacity="0.75"/>
<circle cx="579.37" cy="225.59" r="1.9" fill="#d45a92"/><circle cx="578.87" cy="225.09" r="0.6" fill="#fff" opacity="0.75"/>
<circle cx="577.97" cy="230.13" r="1.9" fill="#d45a92"/><circle cx="577.47" cy="229.63" r="0.6" fill="#fff" opacity="0.75"/>
<circle cx="576.93" cy="233.80" r="1.9" fill="#d45a92"/><circle cx="576.43" cy="233.30" r="0.6" fill="#fff" opacity="0.75"/>
<circle cx="576.90" cy="237.90" r="1.9" fill="#d45a92"/><circle cx="576.40" cy="237.40" r="0.6" fill="#fff" opacity="0.75"/>
<circle cx="578.49" cy="242.77" r="1.9" fill="#d45a92"/><circle cx="577.99" cy="242.27" r="0.6" fill="#fff" opacity="0.75"/>
<circle cx="579.87" cy="246.14" r="1.9" fill="#d45a92"/><circle cx="579.37" cy="245.64" r="0.6" fill="#fff" opacity="0.75"/>
<circle cx="581.55" cy="248.88" r="1.9" fill="#d45a92"/><circle cx="581.05" cy="248.38" r="0.6" fill="#fff" opacity="0.75"/>
<circle cx="583.81" cy="251.23" r="1.9" fill="#d45a92"/><circle cx="583.31" cy="250.73" r="0.6" fill="#fff" opacity="0.75"/>
<circle cx="585.49" cy="252.62" r="1.9" fill="#d45a92"/><circle cx="584.99" cy="252.12" r="0.6" fill="#fff" opacity="0.75"/>
<circle cx="585.45" cy="255.40" r="1.9" fill="#d45a92"/><circle cx="584.95" cy="254.90" r="0.6" fill="#fff" opacity="0.75"/>
<circle cx="583.81" cy="256.77" r="1.9" fill="#d45a92"/><circle cx="583.31" cy="256.27" r="0.6" fill="#fff" opacity="0.75"/>
<circle cx="581.86" cy="258.90" r="1.9" fill="#d45a92"/><circle cx="581.36" cy="258.40" r="0.6" fill="#fff" opacity="0.75"/>
<circle cx="580.00" cy="261.75" r="1.9" fill="#d45a92"/><circle cx="579.50" cy="261.25" r="0.6" fill="#fff" opacity="0.75"/>
<circle cx="577.88" cy="265.90" r="1.9" fill="#d45a92"/><circle cx="577.38" cy="265.40" r="0.6" fill="#fff" opacity="0.75"/>
<circle cx="577.57" cy="269.17" r="1.9" fill="#d45a92"/><circle cx="577.07" cy="268.67" r="0.6" fill="#fff" opacity="0.75"/>
<circle cx="577.35" cy="273.49" r="1.9" fill="#d45a92"/><circle cx="576.85" cy="272.99" r="0.6" fill="#fff" opacity="0.75"/>
<circle cx="578.14" cy="277.49" r="1.9" fill="#d45a92"/><circle cx="577.64" cy="276.99" r="0.6" fill="#fff" opacity="0.75"/>
<circle cx="579.67" cy="281.49" r="1.9" fill="#d45a92"/><circle cx="579.17" cy="280.99" r="0.6" fill="#fff" opacity="0.75"/>
<circle cx="582.16" cy="284.29" r="1.9" fill="#d45a92"/><circle cx="581.66" cy="283.79" r="0.6" fill="#fff" opacity="0.75"/>
<circle cx="585.24" cy="285.95" r="1.9" fill="#d45a92"/><circle cx="584.74" cy="285.45" r="0.6" fill="#fff" opacity="0.75"/>
<polygon points="588.60,269.12 589.13,269.10 589.65,269.02 590.17,268.90 590.67,268.73 591.16,268.51 591.63,268.24 592.08,267.94 592.50,267.59 592.89,267.20 593.25,266.78 593.58,266.33 593.87,265.84 594.13,265.34 594.34,264.80 594.52,264.25 594.65,263.69 594.75,263.11 594.80,262.53 594.81,261.95 594.78,261.36 594.71,260.78 594.60,260.21 594.45,259.65 594.28,259.11 594.06,258.58 593.82,258.08 593.56,257.60 593.27,257.15 592.96,256.72 592.63,256.33 592.29,255.96 591.94,255.63 591.59,255.33 591.24,255.07 590.89,254.83 590.55,254.63 590.23,254.47 589.91,254.33 589.62,254.22 589.36,254.13 589.12,254.07 588.92,254.03 588.76,254.01 588.65,254.00 588.60,254.00 588.60,254.00 588.63,254.00 588.67,253.99 588.73,253.98 588.82,253.96 588.94,253.93 589.09,253.88 589.26,253.81 589.46,253.72 589.68,253.61 589.93,253.46 590.19,253.29 590.48,253.08 590.77,252.84 591.08,252.57 591.39,252.25 591.71,251.90 592.02,251.52 592.32,251.09 592.61,250.64 592.88,250.14 593.14,249.62 593.36,249.07 593.56,248.49 593.73,247.89 593.85,247.27 593.94,246.64 593.99,246.01 593.99,245.37 593.95,244.73 593.87,244.10 593.73,243.48 593.55,242.88 593.32,242.31 593.05,241.76 592.74,241.25 592.39,240.78 592.00,240.35 591.58,239.97 591.13,239.65 590.66,239.37 590.16,239.16 589.65,239.00 589.13,238.91 588.60,238.88 588.07,238.91 587.55,239.00 587.04,239.16 586.54,239.37 586.07,239.65 585.62,239.97 585.20,240.35 584.81,240.78 584.46,241.25 584.15,241.76 583.88,242.31 583.65,242.88 583.47,243.48 583.33,244.10 583.25,244.73 583.21,245.37 583.21,246.01 583.26,246.64 583.35,247.27 583.47,247.89 583.64,248.49 583.84,249.07 584.06,249.62 584.32,250.14 584.59,250.64 584.88,251.09 585.18,251.52 585.49,251.90 585.81,252.25 586.12,252.57 586.43,252.84 586.72,253.08 587.01,253.29 587.27,253.46 587.52,253.61 587.74,253.72 587.94,253.81 588.11,253.88 588.26,253.93 588.38,253.96 588.47,253.98 588.53,253.99 588.57,254.00 588.60,254.00 588.60,254.00 588.55,254.00 588.44,254.01 588.28,254.03 588.08,254.07 587.84,254.13 587.58,254.22 587.29,254.33 586.97,254.47 586.65,254.63 586.31,254.83 585.96,255.07 585.61,255.33 585.26,255.63 584.91,255.96 584.57,256.33 584.24,256.72 583.93,257.15 583.64,257.60 583.38,258.08 583.14,258.58 582.92,259.11 582.75,259.65 582.60,260.21 582.49,260.78 582.42,261.36 582.39,261.95 582.40,262.53 582.45,263.11 582.55,263.69 582.68,264.25 582.86,264.80 583.07,265.34 583.33,265.84 583.62,266.33 583.95,266.78 584.31,267.20 584.70,267.59 585.12,267.94 585.57,268.24 586.04,268.51 586.53,268.73 587.03,268.90 587.55,269.02 588.07,269.10 588.60,269.12" fill="none" stroke="#b05cc4" stroke-width="0.8"/>
<circle cx="588.60" cy="268.74" r="1.5" fill="#b05cc4"/><circle cx="588.10" cy="268.24" r="0.6" fill="#fff" opacity="0.75"/>
<circle cx="590.07" cy="267.96" r="1.5" fill="#b05cc4"/><circle cx="589.57" cy="267.46" r="0.6" fill="#fff" opacity="0.75"/>
<circle cx="591.64" cy="268.29" r="1.5" fill="#b05cc4"/><circle cx="591.14" cy="267.79" r="0.6" fill="#fff" opacity="0.75"/>
<circle cx="592.91" cy="267.27" r="1.5" fill="#b05cc4"/><circle cx="592.41" cy="266.77" r="0.6" fill="#fff" opacity="0.75"/>
<circle cx="594.00" cy="266.14" r="1.5" fill="#b05cc4"/><circle cx="593.50" cy="265.64" r="0.6" fill="#fff" opacity="0.75"/>
<circle cx="594.51" cy="264.23" r="1.5" fill="#b05cc4"/><circle cx="594.01" cy="263.73" r="0.6" fill="#fff" opacity="0.75"/>
<circle cx="594.72" cy="262.43" r="1.5" fill="#b05cc4"/><circle cx="594.22" cy="261.93" r="0.6" fill="#fff" opacity="0.75"/>
<circle cx="594.76" cy="260.84" r="1.5" fill="#b05cc4"/><circle cx="594.26" cy="260.34" r="0.6" fill="#fff" opacity="0.75"/>
<circle cx="594.10" cy="258.95" r="1.5" fill="#b05cc4"/><circle cx="593.60" cy="258.45" r="0.6" fill="#fff" opacity="0.75"/>
<circle cx="593.45" cy="257.53" r="1.5" fill="#b05cc4"/><circle cx="592.95" cy="257.03" r="0.6" fill="#fff" opacity="0.75"/>
<circle cx="592.55" cy="256.28" r="1.5" fill="#b05cc4"/><circle cx="592.05" cy="255.78" r="0.6" fill="#fff" opacity="0.75"/>
<circle cx="591.61" cy="255.34" r="1.5" fill="#b05cc4"/><circle cx="591.11" cy="254.84" r="0.6" fill="#fff" opacity="0.75"/>
<circle cx="591.02" cy="252.60" r="1.5" fill="#b05cc4"/><circle cx="590.52" cy="252.10" r="0.6" fill="#fff" opacity="0.75"/>
<circle cx="591.93" cy="251.58" r="1.5" fill="#b05cc4"/><circle cx="591.43" cy="251.08" r="0.6" fill="#fff" opacity="0.75"/>
<circle cx="592.96" cy="250.08" r="1.5" fill="#b05cc4"/><circle cx="592.46" cy="249.58" r="0.6" fill="#fff" opacity="0.75"/>
<circle cx="593.63" cy="248.42" r="1.5" fill="#b05cc4"/><circle cx="593.13" cy="247.92" r="0.6" fill="#fff" opacity="0.75"/>
<circle cx="594.07" cy="246.48" r="1.5" fill="#b05cc4"/><circle cx="593.57" cy="245.98" r="0.6" fill="#fff" opacity="0.75"/>
<circle cx="594.12" cy="244.44" r="1.5" fill="#b05cc4"/><circle cx="593.62" cy="243.94" r="0.6" fill="#fff" opacity="0.75"/>
<circle cx="593.52" cy="242.95" r="1.5" fill="#b05cc4"/><circle cx="593.02" cy="242.45" r="0.6" fill="#fff" opacity="0.75"/>
<circle cx="592.83" cy="240.98" r="1.5" fill="#b05cc4"/><circle cx="592.33" cy="240.48" r="0.6" fill="#fff" opacity="0.75"/>
<circle cx="591.70" cy="239.43" r="1.5" fill="#b05cc4"/><circle cx="591.20" cy="238.93" r="0.6" fill="#fff" opacity="0.75"/>
<circle cx="590.16" cy="239.16" r="1.5" fill="#b05cc4"/><circle cx="589.66" cy="238.66" r="0.6" fill="#fff" opacity="0.75"/>
<circle cx="588.60" cy="238.55" r="1.5" fill="#b05cc4"/><circle cx="588.10" cy="238.05" r="0.6" fill="#fff" opacity="0.75"/>
<circle cx="587.05" cy="239.21" r="1.5" fill="#b05cc4"/><circle cx="586.55" cy="238.71" r="0.6" fill="#fff" opacity="0.75"/>
<circle cx="585.71" cy="240.43" r="1.5" fill="#b05cc4"/><circle cx="585.21" cy="239.93" r="0.6" fill="#fff" opacity="0.75"/>
<circle cx="584.45" cy="241.22" r="1.5" fill="#b05cc4"/><circle cx="583.95" cy="240.72" r="0.6" fill="#fff" opacity="0.75"/>
<circle cx="583.73" cy="243.06" r="1.5" fill="#b05cc4"/><circle cx="583.23" cy="242.56" r="0.6" fill="#fff" opacity="0.75"/>
<circle cx="583.24" cy="244.71" r="1.5" fill="#b05cc4"/><circle cx="582.74" cy="244.21" r="0.6" fill="#fff" opacity="0.75"/>
<circle cx="583.31" cy="246.71" r="1.5" fill="#b05cc4"/><circle cx="582.81" cy="246.21" r="0.6" fill="#fff" opacity="0.75"/>
<circle cx="583.61" cy="248.45" r="1.5" fill="#b05cc4"/><circle cx="583.11" cy="247.95" r="0.6" fill="#fff" opacity="0.75"/>
<circle cx="584.50" cy="250.31" r="1.5" fill="#b05cc4"/><circle cx="584.00" cy="249.81" r="0.6" fill="#fff" opacity="0.75"/>
<circle cx="585.04" cy="251.41" r="1.5" fill="#b05cc4"/><circle cx="584.54" cy="250.91" r="0.6" fill="#fff" opacity="0.75"/>
<circle cx="586.05" cy="252.53" r="1.5" fill="#b05cc4"/><circle cx="585.55" cy="252.03" r="0.6" fill="#fff" opacity="0.75"/>
<circle cx="585.53" cy="255.37" r="1.5" fill="#b05cc4"/><circle cx="585.03" cy="254.87" r="0.6" fill="#fff" opacity="0.75"/>
<circle cx="584.55" cy="256.34" r="1.5" fill="#b05cc4"/><circle cx="584.05" cy="255.84" r="0.6" fill="#fff" opacity="0.75"/>
<circle cx="583.79" cy="257.49" r="1.5" fill="#b05cc4"/><circle cx="583.29" cy="256.99" r="0.6" fill="#fff" opacity="0.75"/>
<circle cx="583.02" cy="259.02" r="1.5" fill="#b05cc4"/><circle cx="582.52" cy="258.52" r="0.6" fill="#fff" opacity="0.75"/>
<circle cx="582.67" cy="260.59" r="1.5" fill="#b05cc4"/><circle cx="582.17" cy="260.09" r="0.6" fill="#fff" opacity="0.75"/>
<circle cx="582.53" cy="262.36" r="1.5" fill="#b05cc4"/><circle cx="582.03" cy="261.86" r="0.6" fill="#fff" opacity="0.75"/>
<circle cx="582.54" cy="264.50" r="1.5" fill="#b05cc4"/><circle cx="582.04" cy="264.00" r="0.6" fill="#fff" opacity="0.75"/>
<circle cx="583.35" cy="265.79" r="1.5" fill="#b05cc4"/><circle cx="582.85" cy="265.29" r="0.6" fill="#fff" opacity="0.75"/>
<circle cx="584.21" cy="267.50" r="1.5" fill="#b05cc4"/><circle cx="583.71" cy="267.00" r="0.6" fill="#fff" opacity="0.75"/>
<circle cx="585.56" cy="268.30" r="1.5" fill="#b05cc4"/><circle cx="585.06" cy="267.80" r="0.6" fill="#fff" opacity="0.75"/>
<circle cx="587.08" cy="268.44" r="1.5" fill="#b05cc4"/><circle cx="586.58" cy="267.94" r="0.6" fill="#fff" opacity="0.75"/>
<polygon points="588.60,259.40 588.79,259.39 588.97,259.36 589.16,259.31 589.34,259.24 589.51,259.16 589.67,259.05 589.83,258.93 589.98,258.80 590.11,258.65 590.23,258.48 590.34,258.30 590.43,258.12 590.51,257.92 590.58,257.72 590.62,257.51 590.66,257.29 590.68,257.08 590.68,256.86 590.66,256.64 590.64,256.43 590.60,256.22 590.54,256.01 590.47,255.81 590.40,255.62 590.31,255.43 590.21,255.26 590.11,255.10 590.00,254.94 589.89,254.80 589.77,254.68 589.65,254.56 589.53,254.45 589.42,254.36 589.30,254.28 589.19,254.22 589.09,254.16 588.99,254.11 588.91,254.08 588.83,254.05 588.76,254.03 588.70,254.01 588.66,254.01 588.63,254.00 588.61,254.00 588.60,254.00 588.61,254.00 588.63,254.00 588.66,253.99 588.70,253.99 588.76,253.97 588.83,253.95 588.91,253.92 588.99,253.89 589.09,253.84 589.19,253.78 589.30,253.72 589.42,253.64 589.53,253.55 589.65,253.44 589.77,253.32 589.89,253.20 590.00,253.06 590.11,252.90 590.21,252.74 590.31,252.57 590.40,252.38 590.47,252.19 590.54,251.99 590.60,251.78 590.64,251.57 590.66,251.36 590.68,251.14 590.68,250.92 590.66,250.71 590.62,250.49 590.58,250.28 590.51,250.08 590.43,249.88 590.34,249.70 590.23,249.52 590.11,249.35 589.98,249.20 589.83,249.07 589.67,248.95 589.51,248.84 589.34,248.76 589.16,248.69 588.97,248.64 588.79,248.61 588.60,248.60 588.41,248.61 588.23,248.64 588.04,248.69 587.86,248.76 587.69,248.84 587.53,248.95 587.37,249.07 587.22,249.20 587.09,249.35 586.97,249.52 586.86,249.70 586.77,249.88 586.69,250.08 586.62,250.28 586.58,250.49 586.54,250.71 586.52,250.92 586.52,251.14 586.54,251.36 586.56,251.57 586.60,251.78 586.66,251.99 586.73,252.19 586.80,252.38 586.89,252.57 586.99,252.74 587.09,252.90 587.20,253.06 587.31,253.20 587.43,253.32 587.55,253.44 587.67,253.55 587.78,253.64 587.90,253.72 588.01,253.78 588.11,253.84 588.21,253.89 588.29,253.92 588.37,253.95 588.44,253.97 588.50,253.99 588.54,253.99 588.57,254.00 588.59,254.00 588.60,254.00 588.59,254.00 588.57,254.00 588.54,254.01 588.50,254.01 588.44,254.03 588.37,254.05 588.29,254.08 588.21,254.11 588.11,254.16 588.01,254.22 587.90,254.28 587.78,254.36 587.67,254.45 587.55,254.56 587.43,254.68 587.31,254.80 587.20,254.94 587.09,255.10 586.99,255.26 586.89,255.43 586.80,255.62 586.73,255.81 586.66,256.01 586.60,256.22 586.56,256.43 586.54,256.64 586.52,256.86 586.52,257.08 586.54,257.29 586.58,257.51 586.62,257.72 586.69,257.92 586.77,258.12 586.86,258.30 586.97,258.48 587.09,258.65 587.22,258.80 587.37,258.93 587.53,259.05 587.69,259.16 587.86,259.24 588.04,259.31 588.23,259.36 588.41,259.39 588.60,259.40" fill="none" stroke="#8c5cdc" stroke-width="0.8"/>
<circle cx="588.60" cy="259.33" r="1.5" fill="#8c5cdc"/><circle cx="588.10" cy="258.83" r="0.6" fill="#fff" opacity="0.75"/>
<circle cx="589.72" cy="259.29" r="1.5" fill="#8c5cdc"/><circle cx="589.22" cy="258.79" r="0.6" fill="#fff" opacity="0.75"/>
<circle cx="590.40" cy="258.05" r="1.5" fill="#8c5cdc"/><circle cx="589.90" cy="257.55" r="0.6" fill="#fff" opacity="0.75"/>
<circle cx="590.63" cy="256.80" r="1.5" fill="#8c5cdc"/><circle cx="590.13" cy="256.30" r="0.6" fill="#fff" opacity="0.75"/>
<circle cx="590.44" cy="255.66" r="1.5" fill="#8c5cdc"/><circle cx="589.94" cy="255.16" r="0.6" fill="#fff" opacity="0.75"/>
<circle cx="590.35" cy="252.43" r="1.5" fill="#8c5cdc"/><circle cx="589.85" cy="251.93" r="0.6" fill="#fff" opacity="0.75"/>
<circle cx="590.64" cy="251.19" r="1.5" fill="#8c5cdc"/><circle cx="590.14" cy="250.69" r="0.6" fill="#fff" opacity="0.75"/>
<circle cx="590.48" cy="249.79" r="1.5" fill="#8c5cdc"/><circle cx="589.98" cy="249.29" r="0.6" fill="#fff" opacity="0.75"/>
<circle cx="589.67" cy="248.96" r="1.5" fill="#8c5cdc"/><circle cx="589.17" cy="248.46" r="0.6" fill="#fff" opacity="0.75"/>
<circle cx="588.60" cy="248.80" r="1.5" fill="#8c5cdc"/><circle cx="588.10" cy="248.30" r="0.6" fill="#fff" opacity="0.75"/>
<circle cx="587.55" cy="249.06" r="1.5" fill="#8c5cdc"/><circle cx="587.05" cy="248.56" r="0.6" fill="#fff" opacity="0.75"/>
<circle cx="586.71" cy="249.75" r="1.5" fill="#8c5cdc"/><circle cx="586.21" cy="249.25" r="0.6" fill="#fff" opacity="0.75"/>
<circle cx="586.48" cy="251.08" r="1.5" fill="#8c5cdc"/><circle cx="585.98" cy="250.58" r="0.6" fill="#fff" opacity="0.75"/>
<circle cx="586.84" cy="252.42" r="1.5" fill="#8c5cdc"/><circle cx="586.34" cy="251.92" r="0.6" fill="#fff" opacity="0.75"/>
<circle cx="586.77" cy="255.65" r="1.5" fill="#8c5cdc"/><circle cx="586.27" cy="255.15" r="0.6" fill="#fff" opacity="0.75"/>
<circle cx="586.54" cy="256.83" r="1.5" fill="#8c5cdc"/><circle cx="586.04" cy="256.33" r="0.6" fill="#fff" opacity="0.75"/>
<circle cx="586.79" cy="258.07" r="1.5" fill="#8c5cdc"/><circle cx="586.29" cy="257.57" r="0.6" fill="#fff" opacity="0.75"/>
<circle cx="587.56" cy="258.90" r="1.5" fill="#8c5cdc"/><circle cx="587.06" cy="258.40" r="0.6" fill="#fff" opacity="0.75"/>
<polygon points="588.60,256.97 588.70,256.97 588.81,256.96 588.91,256.94 589.01,256.92 589.11,256.88 589.21,256.85 589.30,256.81 589.39,256.76 589.48,256.70 589.56,256.64 589.64,256.58 589.72,256.51 589.79,256.44 589.85,256.36 589.92,256.28 589.97,256.20 590.02,256.11 590.07,256.03 590.11,255.94 590.15,255.85 590.18,255.76 590.21,255.67 590.23,255.58 590.25,255.49 590.27,255.40 590.28,255.31 590.29,255.23 590.29,255.14 590.30,255.06 590.30,254.98 590.29,254.90 590.29,254.82 590.28,254.75 590.28,254.68 590.27,254.61 590.26,254.54 590.26,254.47 590.25,254.41 590.24,254.35 590.24,254.29 590.23,254.23 590.23,254.17 590.22,254.11 590.22,254.06 590.22,254.00 590.22,253.94 590.22,253.89 590.23,253.83 590.23,253.77 590.24,253.71 590.24,253.65 590.25,253.59 590.26,253.53 590.26,253.46 590.27,253.39 590.28,253.32 590.28,253.25 590.29,253.18 590.29,253.10 590.30,253.02 590.30,252.94 590.29,252.86 590.29,252.77 590.28,252.69 590.27,252.60 590.25,252.51 590.23,252.42 590.21,252.33 590.18,252.24 590.15,252.15 590.11,252.06 590.07,251.97 590.02,251.89 589.97,251.80 589.92,251.72 589.85,251.64 589.79,251.56 589.72,251.49 589.64,251.42 589.56,251.36 589.48,251.30 589.39,251.24 589.30,251.19 589.21,251.15 589.11,251.12 589.01,251.08 588.91,251.06 588.81,251.04 588.70,251.03 588.60,251.03 588.50,251.03 588.39,251.04 588.29,251.06 588.19,251.08 588.09,251.12 587.99,251.15 587.90,251.19 587.81,251.24 587.72,251.30 587.64,251.36 587.56,251.42 587.48,251.49 587.41,251.56 587.35,251.64 587.28,251.72 587.23,251.80 587.18,251.89 587.13,251.97 587.09,252.06 587.05,252.15 587.02,252.24 586.99,252.33 586.97,252.42 586.95,252.51 586.93,252.60 586.92,252.69 586.91,252.77 586.91,252.86 586.90,252.94 586.90,253.02 586.91,253.10 586.91,253.18 586.92,253.25 586.92,253.32 586.93,253.39 586.94,253.46 586.94,253.53 586.95,253.59 586.96,253.65 586.96,253.71 586.97,253.77 586.97,253.83 586.98,253.89 586.98,253.94 586.98,254.00 586.98,254.06 586.98,254.11 586.97,254.17 586.97,254.23 586.96,254.29 586.96,254.35 586.95,254.41 586.94,254.47 586.94,254.54 586.93,254.61 586.92,254.68 586.92,254.75 586.91,254.82 586.91,254.90 586.90,254.98 586.90,255.06 586.91,255.14 586.91,255.23 586.92,255.31 586.93,255.40 586.95,255.49 586.97,255.58 586.99,255.67 587.02,255.76 587.05,255.85 587.09,255.94 587.13,256.03 587.18,256.11 587.23,256.20 587.28,256.28 587.35,256.36 587.41,256.44 587.48,256.51 587.56,256.58 587.64,256.64 587.72,256.70 587.81,256.76 587.90,256.81 587.99,256.85 588.09,256.88 588.19,256.92 588.29,256.94 588.39,256.96 588.50,256.97 588.60,256.97" fill="none" stroke="#5e5ef4" stroke-width="0.8"/>
<circle cx="588.60" cy="256.97" r="1.5" fill="#5e5ef4"/><circle cx="588.10" cy="256.47" r="0.6" fill="#fff" opacity="0.75"/>
<circle cx="589.90" cy="256.25" r="1.5" fill="#5e5ef4"/><circle cx="589.40" cy="255.75" r="0.6" fill="#fff" opacity="0.75"/>
<circle cx="590.30" cy="254.98" r="1.5" fill="#5e5ef4"/><circle cx="589.80" cy="254.48" r="0.6" fill="#fff" opacity="0.75"/>
<circle cx="590.18" cy="254.00" r="1.5" fill="#5e5ef4"/><circle cx="589.68" cy="253.50" r="0.6" fill="#fff" opacity="0.75"/>
<circle cx="590.28" cy="253.03" r="1.5" fill="#5e5ef4"/><circle cx="589.78" cy="252.53" r="0.6" fill="#fff" opacity="0.75"/>
<circle cx="589.89" cy="251.76" r="1.5" fill="#5e5ef4"/><circle cx="589.39" cy="251.26" r="0.6" fill="#fff" opacity="0.75"/>
<circle cx="588.60" cy="251.10" r="1.5" fill="#5e5ef4"/><circle cx="588.10" cy="250.60" r="0.6" fill="#fff" opacity="0.75"/>
<circle cx="587.32" cy="251.78" r="1.5" fill="#5e5ef4"/><circle cx="586.82" cy="251.28" r="0.6" fill="#fff" opacity="0.75"/>
<circle cx="586.94" cy="253.04" r="1.5" fill="#5e5ef4"/><circle cx="586.44" cy="252.54" r="0.6" fill="#fff" opacity="0.75"/>
<circle cx="587.02" cy="254.00" r="1.5" fill="#5e5ef4"/><circle cx="586.52" cy="253.50" r="0.6" fill="#fff" opacity="0.75"/>
<circle cx="586.89" cy="254.99" r="1.5" fill="#5e5ef4"/><circle cx="586.39" cy="254.49" r="0.6" fill="#fff" opacity="0.75"/>
<circle cx="587.28" cy="256.28" r="1.5" fill="#5e5ef4"/><circle cx="586.78" cy="255.78" r="0.6" fill="#fff" opacity="0.75"/>
<circle cx="650.6" cy="186.6" r="2.2" fill="#f45a66"/><circle cx="650" cy="186.0" r="0.8" fill="#fff" opacity="0.8"/>
<text class="tk" x="654.8" y="190.0" font-family="Liberation Sans" font-size="9.6" fill="#000"><tspan font-family="Liberation Serif" font-style="italic" font-size="11">α</tspan> = 0°</text>
<circle cx="650.6" cy="198.1" r="2.2" fill="#d45a92"/><circle cx="650" cy="197.5" r="0.8" fill="#fff" opacity="0.8"/>
<text class="tk" x="654.8" y="201.5" font-family="Liberation Sans" font-size="9.6" fill="#000"><tspan font-family="Liberation Serif" font-style="italic" font-size="11">α</tspan> = 30°</text>
<circle cx="650.6" cy="209.6" r="2.2" fill="#b05cc4"/><circle cx="650" cy="209.0" r="0.8" fill="#fff" opacity="0.8"/>
<text class="tk" x="654.8" y="213.0" font-family="Liberation Sans" font-size="9.6" fill="#000"><tspan font-family="Liberation Serif" font-style="italic" font-size="11">α</tspan> = 45°</text>
<circle cx="650.6" cy="221.1" r="2.2" fill="#8c5cdc"/><circle cx="650" cy="220.5" r="0.8" fill="#fff" opacity="0.8"/>
<text class="tk" x="654.8" y="224.5" font-family="Liberation Sans" font-size="9.6" fill="#000"><tspan font-family="Liberation Serif" font-style="italic" font-size="11">α</tspan> = 60°</text>
<circle cx="650.6" cy="232.6" r="2.2" fill="#5e5ef4"/><circle cx="650" cy="232.0" r="0.8" fill="#fff" opacity="0.8"/>
<text class="tk" x="654.8" y="236.0" font-family="Liberation Sans" font-size="9.6" fill="#000"><tspan font-family="Liberation Serif" font-style="italic" font-size="11">α</tspan> = 90°</text>

</svg>
</body></html>
